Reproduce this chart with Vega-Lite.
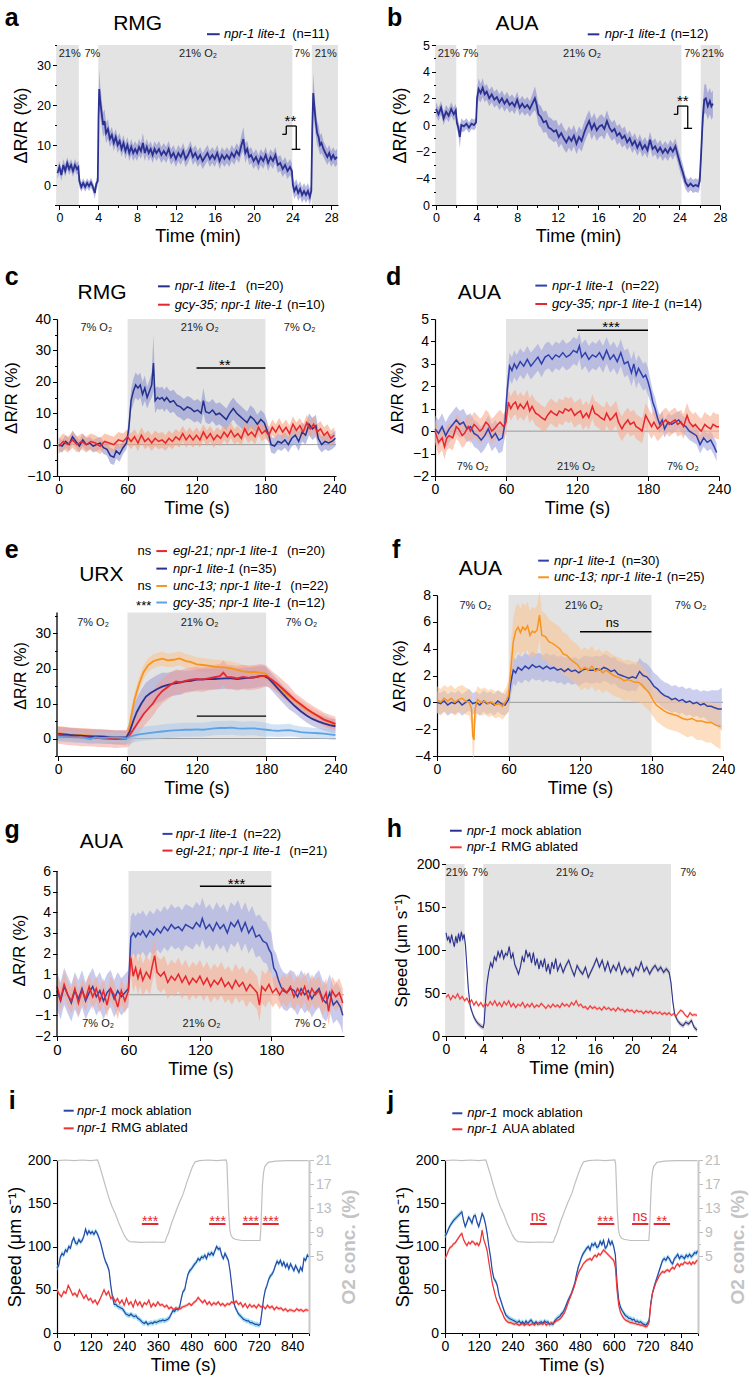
{
"$schema":"https://vega.github.io/schema/vega-lite/v6.json",
"background":"white",
"padding":{"left":2,"top":5,"right":5,"bottom":5},
"config":{"font":"Liberation Sans","view":{"stroke":null},
"axis":{"grid":false,"domainColor":"#000000","tickColor":"#000000","labelColor":"#000000","titleColor":"#000000","titleFontWeight":"normal","tickSize":4.5,"tickWidth":1,"domainWidth":1.2,"labelPadding":2,"labelOverlap":false,"labelFlush":false,"titlePadding":6,"labelFont":"Liberation Sans","titleFont":"Liberation Sans"},
"text":{"font":"Liberation Sans","color":"#000000"},"rule":{"color":"#000000"}},
"datasets":{
"a":[{"x":-0.2,"y":3,"e":1.5},{"x":0,"y":4.5,"e":1.5},{"x":0.2,"y":2.5,"e":1.5},{"x":0.4,"y":5,"e":1.5},{"x":0.6,"y":3.5,"e":1.5},{"x":0.8,"y":5.5,"e":1.5},{"x":1,"y":4,"e":1.5},{"x":1.2,"y":5,"e":1.5},{"x":1.4,"y":3.5,"e":1.5},{"x":1.6,"y":5,"e":1.5},{"x":1.8,"y":4,"e":1.5},{"x":1.95,"y":4.5,"e":1.5},{"x":2.05,"y":1,"e":1.5},{"x":2.25,"y":-0.5,"e":1.2},{"x":2.45,"y":0.5,"e":1.2},{"x":2.65,"y":-0.5,"e":1.2},{"x":2.85,"y":0.5,"e":1.2},{"x":3.05,"y":-0.3,"e":1.2},{"x":3.25,"y":0.6,"e":1.2},{"x":3.45,"y":-0.5,"e":1.2},{"x":3.65,"y":-2,"e":1.5},{"x":3.8,"y":0.3,"e":1.2},{"x":3.95,"y":1,"e":1.2},{"x":4.03,"y":17,"e":4},{"x":4.1,"y":24,"e":5},{"x":4.2,"y":21,"e":4},{"x":4.35,"y":18,"e":3.5},{"x":4.5,"y":15,"e":3},{"x":4.65,"y":16,"e":3},{"x":4.8,"y":13,"e":2.5},{"x":5,"y":14,"e":2.5},{"x":5.2,"y":11.5,"e":2},{"x":5.4,"y":12.5,"e":2},{"x":5.6,"y":10.5,"e":2},{"x":5.8,"y":12,"e":2},{"x":6,"y":10,"e":2},{"x":6.2,"y":11,"e":2},{"x":6.4,"y":9,"e":2},{"x":6.6,"y":10.5,"e":2},{"x":6.8,"y":8.5,"e":2},{"x":7,"y":10,"e":2},{"x":7.2,"y":8,"e":2},{"x":7.4,"y":9.5,"e":2},{"x":7.6,"y":8,"e":2},{"x":7.8,"y":9,"e":2},{"x":8,"y":8,"e":2},{"x":8.2,"y":9.5,"e":2},{"x":8.4,"y":8.5,"e":2},{"x":8.6,"y":10.5,"e":2.5},{"x":8.8,"y":8,"e":2},{"x":9,"y":9.5,"e":2},{"x":9.2,"y":8,"e":2},{"x":9.4,"y":9,"e":2},{"x":9.6,"y":7.5,"e":2},{"x":9.8,"y":9,"e":2},{"x":10,"y":8,"e":2},{"x":10.25,"y":9,"e":2},{"x":10.5,"y":7.5,"e":2},{"x":10.75,"y":8.5,"e":2},{"x":11,"y":7.5,"e":2},{"x":11.25,"y":9,"e":2},{"x":11.5,"y":7,"e":2},{"x":11.75,"y":8,"e":2},{"x":12,"y":6.5,"e":2},{"x":12.25,"y":8,"e":2},{"x":12.5,"y":7,"e":2},{"x":12.75,"y":8.5,"e":2},{"x":13,"y":6.5,"e":2},{"x":13.25,"y":7.5,"e":2},{"x":13.5,"y":9,"e":2},{"x":13.75,"y":7,"e":2},{"x":14,"y":8,"e":2},{"x":14.25,"y":6.5,"e":2},{"x":14.5,"y":7.5,"e":2},{"x":14.75,"y":6,"e":2},{"x":15,"y":7,"e":2},{"x":15.25,"y":8,"e":2},{"x":15.5,"y":6.5,"e":2},{"x":15.75,"y":7.5,"e":2},{"x":16,"y":6.5,"e":2},{"x":16.25,"y":8,"e":2},{"x":16.5,"y":6,"e":2},{"x":16.75,"y":7.5,"e":2},{"x":17,"y":6.5,"e":2},{"x":17.25,"y":7.5,"e":2},{"x":17.5,"y":6.5,"e":2},{"x":17.75,"y":8,"e":2},{"x":18,"y":7,"e":2},{"x":18.25,"y":8.5,"e":2},{"x":18.5,"y":7.5,"e":2},{"x":18.75,"y":10,"e":2.5},{"x":18.95,"y":11.5,"e":3},{"x":19.15,"y":8,"e":2.5},{"x":19.35,"y":9,"e":2},{"x":19.55,"y":7,"e":2},{"x":19.75,"y":7.5,"e":2},{"x":20,"y":6,"e":2},{"x":20.25,"y":7,"e":2},{"x":20.5,"y":5.5,"e":2},{"x":20.75,"y":7,"e":2},{"x":21,"y":6,"e":2},{"x":21.25,"y":7.5,"e":2},{"x":21.5,"y":5.5,"e":2},{"x":21.75,"y":7,"e":2},{"x":22,"y":6,"e":2},{"x":22.25,"y":7.5,"e":2},{"x":22.5,"y":5,"e":2},{"x":22.75,"y":5.5,"e":2},{"x":23,"y":4,"e":2},{"x":23.25,"y":5,"e":2},{"x":23.5,"y":3.5,"e":2},{"x":23.75,"y":4.5,"e":2},{"x":23.95,"y":3.5,"e":2},{"x":24.05,"y":0,"e":2},{"x":24.2,"y":-1.5,"e":2},{"x":24.4,"y":-0.5,"e":2},{"x":24.6,"y":-2,"e":2},{"x":24.8,"y":-1,"e":2},{"x":25,"y":-2.5,"e":2},{"x":25.2,"y":-1.5,"e":2},{"x":25.4,"y":-2.5,"e":2},{"x":25.6,"y":-1.5,"e":2},{"x":25.8,"y":-3,"e":2},{"x":25.95,"y":-1.5,"e":2},{"x":26.05,"y":14,"e":4},{"x":26.15,"y":23,"e":5},{"x":26.25,"y":20,"e":4},{"x":26.4,"y":16,"e":3.5},{"x":26.55,"y":13,"e":3},{"x":26.7,"y":12,"e":3},{"x":26.85,"y":10,"e":2.5},{"x":27,"y":10.5,"e":2.5},{"x":27.2,"y":9,"e":2},{"x":27.4,"y":8,"e":2},{"x":27.6,"y":7,"e":2},{"x":27.8,"y":8,"e":2},{"x":28,"y":6.5,"e":2},{"x":28.2,"y":7.5,"e":2},{"x":28.4,"y":6.5,"e":2},{"x":28.6,"y":7,"e":2}],
"a_g":[{"x":-0.25,"x2":2,"y":-5,"y2":35},{"x":4,"x2":24,"y":-5,"y2":35},{"x":26,"x2":28.7,"y":-5,"y2":35}],
"a_s":[{"x":22.96,"x2":23.37,"y":12.67,"y2":12.67},{"x":23.37,"x2":23.37,"y":12.67,"y2":14.75},{"x":23.37,"x2":24.4,"y":14.75,"y2":14.75},{"x":24.4,"x2":24.4,"y":14.75,"y2":8.92},{"x":23.93,"x2":24.82,"y":8.92,"y2":8.92}],
"a_l":[{"x":15.2,"x2":16.51,"y":37.7}],
"a_t":[{"k":"L","x":-5.64,"y":39.75,"t":"a"},{"k":"N","x":8.06,"y":38.7,"t":"RMG"},{"k":"I","x":16.96,"y":37.7,"t":"npr-1 lite-1"},{"k":"R","x":23.99,"y":37.7,"t":"(n=11)"},{"k":"P","x":1.06,"y":32.7,"t":"21%"},{"k":"P","x":3.39,"y":32.7,"t":"7%"},{"k":"P","x":14.28,"y":32.7,"t":"21% O₂"},{"k":"P","x":24.99,"y":32.7,"t":"7%"},{"k":"P","x":27.43,"y":32.7,"t":"21%"},{"k":"S","x":23.8,"y":15.9,"t":"**"}],
"b":[{"x":0,"y":1.2,"e":0.5},{"x":0.25,"y":0.8,"e":0.5},{"x":0.5,"y":1.3,"e":0.5},{"x":0.75,"y":0.5,"e":0.5},{"x":1,"y":1,"e":0.5},{"x":1.25,"y":0.7,"e":0.5},{"x":1.5,"y":1.2,"e":0.5},{"x":1.75,"y":0.8,"e":0.5},{"x":1.95,"y":1.1,"e":0.5},{"x":2.05,"y":0.2,"e":0.5},{"x":2.2,"y":-0.2,"e":0.5},{"x":2.35,"y":-0.9,"e":0.8},{"x":2.5,"y":0,"e":0.5},{"x":2.75,"y":-0.1,"e":0.4},{"x":3,"y":0.1,"e":0.4},{"x":3.25,"y":-0.2,"e":0.4},{"x":3.5,"y":0.1,"e":0.4},{"x":3.75,"y":0,"e":0.4},{"x":3.95,"y":0.2,"e":0.4},{"x":4.05,"y":2,"e":0.8},{"x":4.2,"y":2.7,"e":0.8},{"x":4.4,"y":2.4,"e":0.7},{"x":4.6,"y":2.8,"e":0.7},{"x":4.8,"y":2.3,"e":0.6},{"x":5,"y":2.5,"e":0.6},{"x":5.25,"y":2,"e":0.6},{"x":5.5,"y":2.3,"e":0.6},{"x":5.75,"y":1.9,"e":0.6},{"x":6,"y":2.1,"e":0.6},{"x":6.25,"y":1.7,"e":0.6},{"x":6.5,"y":2,"e":0.6},{"x":6.75,"y":1.6,"e":0.6},{"x":7,"y":1.9,"e":0.6},{"x":7.25,"y":1.5,"e":0.6},{"x":7.5,"y":1.7,"e":0.6},{"x":7.75,"y":1.4,"e":0.6},{"x":8,"y":1.9,"e":0.6},{"x":8.25,"y":1.3,"e":0.6},{"x":8.5,"y":1.6,"e":0.6},{"x":8.75,"y":1.3,"e":0.6},{"x":9,"y":1.5,"e":0.6},{"x":9.25,"y":1.2,"e":0.6},{"x":9.5,"y":1.6,"e":0.7},{"x":9.75,"y":2,"e":0.9},{"x":9.9,"y":1.6,"e":0.8},{"x":10.1,"y":0.8,"e":0.8},{"x":10.35,"y":0.6,"e":0.8},{"x":10.6,"y":0.2,"e":0.8},{"x":10.85,"y":0.3,"e":0.8},{"x":11.1,"y":-0.2,"e":0.8},{"x":11.35,"y":-0.3,"e":0.8},{"x":11.6,"y":-0.5,"e":0.8},{"x":11.85,"y":-0.4,"e":0.8},{"x":12.1,"y":-0.9,"e":0.8},{"x":12.35,"y":-0.6,"e":0.8},{"x":12.6,"y":-1,"e":0.8},{"x":12.85,"y":-1.3,"e":0.8},{"x":13.1,"y":-0.9,"e":0.8},{"x":13.35,"y":-1.2,"e":0.8},{"x":13.6,"y":-0.8,"e":0.8},{"x":13.85,"y":-1.4,"e":0.8},{"x":14.1,"y":-0.9,"e":0.8},{"x":14.35,"y":-1.2,"e":0.8},{"x":14.6,"y":-0.6,"e":0.8},{"x":14.85,"y":-0.1,"e":0.8},{"x":15.1,"y":0.3,"e":0.8},{"x":15.35,"y":-0.3,"e":0.8},{"x":15.6,"y":0.1,"e":0.8},{"x":15.85,"y":-0.4,"e":0.8},{"x":16.1,"y":-0.1,"e":0.8},{"x":16.35,"y":0,"e":0.8},{"x":16.6,"y":-0.3,"e":0.8},{"x":16.85,"y":0.3,"e":0.8},{"x":17.1,"y":-0.2,"e":0.7},{"x":17.35,"y":-0.5,"e":0.7},{"x":17.6,"y":-0.3,"e":0.7},{"x":17.85,"y":-0.8,"e":0.7},{"x":18.1,"y":-0.6,"e":0.7},{"x":18.35,"y":-1,"e":0.7},{"x":18.6,"y":-0.8,"e":0.7},{"x":18.85,"y":-1.3,"e":0.6},{"x":19.1,"y":-1,"e":0.6},{"x":19.35,"y":-1.5,"e":0.6},{"x":19.6,"y":-1.2,"e":0.6},{"x":19.85,"y":-1.7,"e":0.6},{"x":20.1,"y":-1.3,"e":0.6},{"x":20.35,"y":-1.8,"e":0.6},{"x":20.6,"y":-1.5,"e":0.6},{"x":20.85,"y":-1.9,"e":0.6},{"x":21.1,"y":-1.1,"e":0.6},{"x":21.35,"y":-1.8,"e":0.6},{"x":21.6,"y":-1.6,"e":0.6},{"x":21.85,"y":-2,"e":0.6},{"x":22.1,"y":-1.7,"e":0.6},{"x":22.35,"y":-2.1,"e":0.6},{"x":22.6,"y":-1.8,"e":0.6},{"x":22.85,"y":-2.1,"e":0.6},{"x":23.1,"y":-1.7,"e":0.6},{"x":23.35,"y":-2,"e":0.6},{"x":23.6,"y":-1.6,"e":0.6},{"x":23.85,"y":-2.3,"e":0.6},{"x":24.1,"y":-3,"e":0.6},{"x":24.35,"y":-3.6,"e":0.6},{"x":24.6,"y":-4.3,"e":0.5},{"x":24.85,"y":-4.6,"e":0.5},{"x":25.1,"y":-4.4,"e":0.5},{"x":25.35,"y":-4.6,"e":0.5},{"x":25.6,"y":-4.5,"e":0.5},{"x":25.85,"y":-4.6,"e":0.5},{"x":26,"y":-4.2,"e":0.6},{"x":26.15,"y":-2,"e":0.8},{"x":26.3,"y":0.5,"e":1},{"x":26.45,"y":1.9,"e":1.1},{"x":26.6,"y":2,"e":1.1},{"x":26.8,"y":1.4,"e":1},{"x":27,"y":1.8,"e":1},{"x":27.15,"y":1.4,"e":1},{"x":27.3,"y":1.6,"e":1}],
"b_g":[{"x":0,"x2":2,"y":-6,"y2":6},{"x":4,"x2":24.2,"y":-6,"y2":6},{"x":26.1,"x2":28,"y":-6,"y2":6}],
"b_s":[{"x":23.44,"x2":23.83,"y":0.8,"y2":0.8},{"x":23.83,"x2":23.83,"y":0.8,"y2":1.42},{"x":23.83,"x2":24.82,"y":1.42,"y2":1.42},{"x":24.82,"x2":24.82,"y":1.42,"y2":-0.25},{"x":24.43,"x2":25.25,"y":-0.25,"y2":-0.25}],
"b_l":[{"x":14.96,"x2":16.1,"y":6.8}],
"b_t":[{"k":"L","x":-4.83,"y":7.43,"t":"b"},{"k":"N","x":7.99,"y":7.1,"t":"AUA"},{"k":"I","x":16.63,"y":6.8,"t":"npr-1 lite-1"},{"k":"R","x":23.11,"y":6.8,"t":"(n=12)"},{"k":"P","x":1.25,"y":5.3,"t":"21%"},{"k":"P","x":3.39,"y":5.3,"t":"7%"},{"k":"P","x":14.4,"y":5.3,"t":"21% O₂"},{"k":"P","x":25.25,"y":5.3,"t":"7%"},{"k":"P","x":27.3,"y":5.3,"t":"21%"},{"k":"S","x":24.33,"y":1.79,"t":"**"}],
"c":[{"s":"n","x":0,"y":0,"e":2},{"s":"n","x":3,"y":-0.5,"e":2},{"s":"n","x":6,"y":1,"e":2},{"s":"n","x":9,"y":0,"e":2},{"s":"n","x":12,"y":2.5,"e":2},{"s":"n","x":15,"y":1,"e":2},{"s":"n","x":18,"y":-0.5,"e":2},{"s":"n","x":21,"y":1.5,"e":2},{"s":"n","x":24,"y":0,"e":2},{"s":"n","x":27,"y":0.5,"e":2},{"s":"n","x":30,"y":-0.5,"e":2},{"s":"n","x":33,"y":0,"e":2},{"s":"n","x":36,"y":0.5,"e":2},{"s":"n","x":39,"y":-1,"e":2},{"s":"n","x":42,"y":-1.5,"e":2},{"s":"n","x":45,"y":-3.5,"e":2.5},{"s":"n","x":48,"y":-4,"e":2.5},{"s":"n","x":50,"y":-2,"e":2.5},{"s":"n","x":53,"y":-3,"e":2.5},{"s":"n","x":56,"y":-1,"e":2},{"s":"n","x":59,"y":0.5,"e":2},{"s":"n","x":61,"y":5,"e":3},{"s":"n","x":63,"y":14,"e":3.5},{"s":"n","x":65,"y":17,"e":4},{"s":"n","x":67,"y":19,"e":4},{"s":"n","x":69,"y":18,"e":4},{"s":"n","x":71,"y":19,"e":4},{"s":"n","x":73,"y":16,"e":4},{"s":"n","x":75,"y":18,"e":4},{"s":"n","x":77,"y":15,"e":3.5},{"s":"n","x":79,"y":17,"e":3.5},{"s":"n","x":81,"y":19,"e":4},{"s":"n","x":82.5,"y":26,"e":9},{"s":"n","x":84,"y":14,"e":4},{"s":"n","x":86,"y":15,"e":3.5},{"s":"n","x":88,"y":14.5,"e":3.5},{"s":"n","x":90,"y":15,"e":3.5},{"s":"n","x":92,"y":14,"e":3.5},{"s":"n","x":94,"y":15,"e":3.5},{"s":"n","x":97,"y":13.5,"e":3.5},{"s":"n","x":100,"y":14,"e":3.5},{"s":"n","x":103,"y":12.5,"e":3.5},{"s":"n","x":106,"y":12,"e":3.5},{"s":"n","x":109,"y":11,"e":3.5},{"s":"n","x":112,"y":12,"e":3.5},{"s":"n","x":115,"y":11.5,"e":3.5},{"s":"n","x":118,"y":10.5,"e":3.5},{"s":"n","x":121,"y":11,"e":3.5},{"s":"n","x":124,"y":10,"e":3.5},{"s":"n","x":126,"y":14,"e":4},{"s":"n","x":128,"y":10.5,"e":3.5},{"s":"n","x":131,"y":10,"e":3.5},{"s":"n","x":134,"y":11,"e":3.5},{"s":"n","x":137,"y":9.5,"e":3.5},{"s":"n","x":140,"y":10,"e":3.5},{"s":"n","x":143,"y":9,"e":3.5},{"s":"n","x":146,"y":8,"e":3.5},{"s":"n","x":149,"y":10,"e":3.5},{"s":"n","x":152,"y":11.5,"e":3.5},{"s":"n","x":155,"y":10,"e":3.5},{"s":"n","x":158,"y":9,"e":3.5},{"s":"n","x":161,"y":8,"e":3.5},{"s":"n","x":164,"y":7,"e":3.5},{"s":"n","x":167,"y":9,"e":3.5},{"s":"n","x":170,"y":8,"e":3.5},{"s":"n","x":173,"y":6.5,"e":3},{"s":"n","x":176,"y":8,"e":3},{"s":"n","x":179,"y":7,"e":3},{"s":"n","x":181,"y":5,"e":3},{"s":"n","x":183,"y":3,"e":2.5},{"s":"n","x":185,"y":0,"e":2.5},{"s":"n","x":188,"y":-0.5,"e":2.5},{"s":"n","x":191,"y":1,"e":2.5},{"s":"n","x":194,"y":0.5,"e":2.5},{"s":"n","x":197,"y":1.5,"e":2.5},{"s":"n","x":200,"y":0,"e":2.5},{"s":"n","x":203,"y":2,"e":2.5},{"s":"n","x":206,"y":3,"e":3},{"s":"n","x":209,"y":1,"e":3},{"s":"n","x":212,"y":4,"e":3},{"s":"n","x":215,"y":3,"e":3},{"s":"n","x":218,"y":6.5,"e":3.5},{"s":"n","x":221,"y":5,"e":3.5},{"s":"n","x":224,"y":6,"e":3.5},{"s":"n","x":226,"y":2,"e":3},{"s":"n","x":229,"y":0,"e":2.5},{"s":"n","x":232,"y":1,"e":2.5},{"s":"n","x":235,"y":0.5,"e":2.5},{"s":"n","x":238,"y":1,"e":2.5},{"s":"n","x":241,"y":2,"e":2.5},
{"s":"g","x":0,"y":-0.5,"e":2.5},{"s":"g","x":4,"y":1,"e":2.5},{"s":"g","x":8,"y":0,"e":2.5},{"s":"g","x":12,"y":1.5,"e":2.5},{"s":"g","x":16,"y":0,"e":2.5},{"s":"g","x":20,"y":1,"e":2.5},{"s":"g","x":24,"y":0,"e":2.5},{"s":"g","x":28,"y":1,"e":2.5},{"s":"g","x":32,"y":0.5,"e":2.5},{"s":"g","x":36,"y":-0.5,"e":2.5},{"s":"g","x":40,"y":1,"e":2.5},{"s":"g","x":44,"y":0.5,"e":2.5},{"s":"g","x":48,"y":0,"e":2.5},{"s":"g","x":52,"y":1.5,"e":2.5},{"s":"g","x":56,"y":1,"e":2.5},{"s":"g","x":60,"y":2.5,"e":2.5},{"s":"g","x":63,"y":1,"e":2.5},{"s":"g","x":66,"y":2.5,"e":2.5},{"s":"g","x":69,"y":0.5,"e":2.5},{"s":"g","x":72,"y":3,"e":2.5},{"s":"g","x":75,"y":1,"e":2.5},{"s":"g","x":78,"y":2,"e":2.5},{"s":"g","x":81,"y":0.5,"e":2.5},{"s":"g","x":84,"y":2,"e":2.5},{"s":"g","x":87,"y":1,"e":2.5},{"s":"g","x":90,"y":1.5,"e":2.5},{"s":"g","x":93,"y":0.5,"e":2.5},{"s":"g","x":96,"y":2,"e":2.5},{"s":"g","x":99,"y":1,"e":2.5},{"s":"g","x":102,"y":2.5,"e":2.5},{"s":"g","x":105,"y":1.5,"e":2.5},{"s":"g","x":108,"y":3.5,"e":2.5},{"s":"g","x":111,"y":1.5,"e":2.5},{"s":"g","x":114,"y":3,"e":2.5},{"s":"g","x":117,"y":1.5,"e":2.5},{"s":"g","x":120,"y":3,"e":2.5},{"s":"g","x":123,"y":1.5,"e":2.5},{"s":"g","x":126,"y":4,"e":2.5},{"s":"g","x":129,"y":2,"e":2.5},{"s":"g","x":132,"y":3.5,"e":2.5},{"s":"g","x":135,"y":1.5,"e":2.5},{"s":"g","x":138,"y":3,"e":2.5},{"s":"g","x":141,"y":2,"e":2.5},{"s":"g","x":144,"y":4,"e":2.5},{"s":"g","x":147,"y":2.5,"e":2.5},{"s":"g","x":150,"y":4.5,"e":2.5},{"s":"g","x":153,"y":2.5,"e":2.5},{"s":"g","x":156,"y":3.5,"e":2.5},{"s":"g","x":159,"y":2,"e":2.5},{"s":"g","x":162,"y":5,"e":2.5},{"s":"g","x":165,"y":3,"e":2.5},{"s":"g","x":168,"y":4,"e":2.5},{"s":"g","x":171,"y":2.5,"e":2.5},{"s":"g","x":174,"y":5.5,"e":2.5},{"s":"g","x":177,"y":3.5,"e":2.5},{"s":"g","x":180,"y":4.5,"e":2.5},{"s":"g","x":183,"y":3,"e":2.5},{"s":"g","x":186,"y":5.5,"e":2.5},{"s":"g","x":189,"y":4,"e":2.5},{"s":"g","x":192,"y":6,"e":2.5},{"s":"g","x":195,"y":4,"e":2.5},{"s":"g","x":198,"y":5.5,"e":2.5},{"s":"g","x":201,"y":3.5,"e":2.5},{"s":"g","x":204,"y":6.5,"e":2.5},{"s":"g","x":207,"y":4.5,"e":2.5},{"s":"g","x":210,"y":6,"e":2.5},{"s":"g","x":213,"y":4,"e":2.5},{"s":"g","x":216,"y":7,"e":2.5},{"s":"g","x":219,"y":5,"e":2.5},{"s":"g","x":222,"y":6.5,"e":2.5},{"s":"g","x":225,"y":4,"e":2.5},{"s":"g","x":228,"y":5,"e":2.5},{"s":"g","x":231,"y":3,"e":2.5},{"s":"g","x":234,"y":4,"e":2.5},{"s":"g","x":237,"y":2,"e":2.5},{"s":"g","x":240,"y":3,"e":2.5}],
"c_g":[{"x":60,"x2":180,"y":-10,"y2":40}],
"c_s":[{"k":"b","x":120,"x2":180,"y":24.4,"y2":24.4},{"k":"z","x":-1.5,"x2":241.5,"y":0,"y2":0}],
"c_l":[{"s":"n","x":86.5,"x2":96.7,"y":50.4},{"s":"g","x":86.5,"x2":96.7,"y":44.55}],
"c_t":[{"k":"L","x":-47.06,"y":50.83,"t":"c"},{"k":"N","x":37.7,"y":46.4,"t":"RMG"},{"k":"I","x":101,"y":50.4,"t":"npr-1 lite-1"},{"k":"R","x":162.8,"y":50.4,"t":"(n=20)"},{"k":"I","x":101,"y":44.55,"t":"gcy-35; npr-1 lite-1"},{"k":"R","x":198.8,"y":44.55,"t":"(n=10)"},{"k":"P","x":32.7,"y":37.1,"t":"7% O₂"},{"k":"P","x":122.8,"y":37.1,"t":"21% O₂"},{"k":"P","x":209.9,"y":37.1,"t":"7% O₂"},{"k":"S","x":144.6,"y":25.4,"t":"**"}],
"d":[{"s":"n","x":0,"y":0.1,"e":0.6},{"s":"n","x":3,"y":-0.1,"e":0.6},{"s":"n","x":6,"y":0.2,"e":0.6},{"s":"n","x":9,"y":-0.2,"e":0.6},{"s":"n","x":12,"y":0.1,"e":0.6},{"s":"n","x":15,"y":0.3,"e":0.6},{"s":"n","x":18,"y":0.5,"e":0.6},{"s":"n","x":21,"y":0.3,"e":0.6},{"s":"n","x":24,"y":0.4,"e":0.6},{"s":"n","x":27,"y":0.1,"e":0.6},{"s":"n","x":30,"y":0.2,"e":0.6},{"s":"n","x":33,"y":-0.1,"e":0.6},{"s":"n","x":36,"y":-0.2,"e":0.6},{"s":"n","x":39,"y":-0.4,"e":0.6},{"s":"n","x":42,"y":-0.2,"e":0.6},{"s":"n","x":45,"y":0.1,"e":0.6},{"s":"n","x":48,"y":-0.3,"e":0.6},{"s":"n","x":51,"y":-0.1,"e":0.6},{"s":"n","x":54,"y":-0.4,"e":0.6},{"s":"n","x":57,"y":-0.3,"e":0.6},{"s":"n","x":59,"y":0.3,"e":0.6},{"s":"n","x":61,"y":1.8,"e":0.6},{"s":"n","x":63,"y":2.9,"e":0.6},{"s":"n","x":65,"y":2.7,"e":0.6},{"s":"n","x":67,"y":3,"e":0.6},{"s":"n","x":69,"y":2.8,"e":0.6},{"s":"n","x":72,"y":3.1,"e":0.6},{"s":"n","x":75,"y":2.9,"e":0.6},{"s":"n","x":78,"y":3.2,"e":0.6},{"s":"n","x":81,"y":2.9,"e":0.6},{"s":"n","x":84,"y":3.1,"e":0.6},{"s":"n","x":87,"y":3.3,"e":0.6},{"s":"n","x":90,"y":3,"e":0.6},{"s":"n","x":93,"y":3.3,"e":0.6},{"s":"n","x":96,"y":3.4,"e":0.6},{"s":"n","x":99,"y":3.2,"e":0.6},{"s":"n","x":102,"y":3.4,"e":0.6},{"s":"n","x":105,"y":3.3,"e":0.6},{"s":"n","x":108,"y":3.5,"e":0.6},{"s":"n","x":111,"y":3.3,"e":0.6},{"s":"n","x":114,"y":3.4,"e":0.6},{"s":"n","x":117,"y":3.6,"e":0.6},{"s":"n","x":120,"y":3.5,"e":0.6},{"s":"n","x":122,"y":3.8,"e":0.6},{"s":"n","x":124,"y":3.3,"e":0.6},{"s":"n","x":127,"y":3.5,"e":0.6},{"s":"n","x":130,"y":3.2,"e":0.6},{"s":"n","x":133,"y":3.4,"e":0.6},{"s":"n","x":136,"y":3.3,"e":0.6},{"s":"n","x":139,"y":3.5,"e":0.6},{"s":"n","x":142,"y":3.2,"e":0.6},{"s":"n","x":145,"y":3.6,"e":0.6},{"s":"n","x":148,"y":3.2,"e":0.6},{"s":"n","x":151,"y":3.4,"e":0.6},{"s":"n","x":154,"y":3.1,"e":0.6},{"s":"n","x":157,"y":3.5,"e":0.6},{"s":"n","x":160,"y":3,"e":0.6},{"s":"n","x":163,"y":3.1,"e":0.6},{"s":"n","x":166,"y":2.6,"e":0.6},{"s":"n","x":168,"y":3,"e":0.6},{"s":"n","x":170,"y":2.5,"e":0.6},{"s":"n","x":172,"y":2.8,"e":0.6},{"s":"n","x":174,"y":2.6,"e":0.6},{"s":"n","x":176,"y":2.4,"e":0.6},{"s":"n","x":178,"y":2.5,"e":0.6},{"s":"n","x":180,"y":2.2,"e":0.6},{"s":"n","x":182,"y":1.8,"e":0.5},{"s":"n","x":184,"y":1.3,"e":0.5},{"s":"n","x":186,"y":1,"e":0.5},{"s":"n","x":188,"y":0.6,"e":0.4},{"s":"n","x":190,"y":0.3,"e":0.4},{"s":"n","x":192,"y":0.5,"e":0.4},{"s":"n","x":194,"y":0.1,"e":0.4},{"s":"n","x":197,"y":0.4,"e":0.4},{"s":"n","x":200,"y":0.3,"e":0.4},{"s":"n","x":203,"y":0.4,"e":0.4},{"s":"n","x":206,"y":0.5,"e":0.4},{"s":"n","x":209,"y":0.3,"e":0.4},{"s":"n","x":212,"y":0.2,"e":0.4},{"s":"n","x":215,"y":0,"e":0.4},{"s":"n","x":218,"y":-0.1,"e":0.4},{"s":"n","x":221,"y":-0.2,"e":0.4},{"s":"n","x":224,"y":-0.6,"e":0.4},{"s":"n","x":227,"y":-0.3,"e":0.4},{"s":"n","x":230,"y":-0.5,"e":0.4},{"s":"n","x":233,"y":-0.4,"e":0.4},{"s":"n","x":236,"y":-0.7,"e":0.4},{"s":"n","x":238,"y":-0.95,"e":0.4},
{"s":"g","x":0,"y":0,"e":0.55},{"s":"g","x":3,"y":-0.5,"e":0.55},{"s":"g","x":6,"y":-0.3,"e":0.55},{"s":"g","x":8,"y":-0.7,"e":0.55},{"s":"g","x":10,"y":-0.3,"e":0.55},{"s":"g","x":12,"y":-0.2,"e":0.55},{"s":"g","x":15,"y":-0.3,"e":0.55},{"s":"g","x":18,"y":0.2,"e":0.55},{"s":"g","x":20,"y":0.1,"e":0.55},{"s":"g","x":23,"y":-0.2,"e":0.55},{"s":"g","x":25,"y":-0.1,"e":0.55},{"s":"g","x":28,"y":0.2,"e":0.55},{"s":"g","x":30,"y":0,"e":0.55},{"s":"g","x":33,"y":0.3,"e":0.55},{"s":"g","x":35,"y":0.2,"e":0.55},{"s":"g","x":38,"y":0,"e":0.55},{"s":"g","x":40,"y":0.1,"e":0.55},{"s":"g","x":43,"y":0.4,"e":0.55},{"s":"g","x":45,"y":0.3,"e":0.55},{"s":"g","x":48,"y":0,"e":0.55},{"s":"g","x":50,"y":0.1,"e":0.55},{"s":"g","x":53,"y":0.3,"e":0.55},{"s":"g","x":55,"y":0.4,"e":0.55},{"s":"g","x":58,"y":0.2,"e":0.55},{"s":"g","x":60,"y":0.4,"e":0.55},{"s":"g","x":62,"y":1.3,"e":0.55},{"s":"g","x":64,"y":1,"e":0.55},{"s":"g","x":66,"y":1.2,"e":0.55},{"s":"g","x":68,"y":1.3,"e":0.55},{"s":"g","x":70,"y":1,"e":0.55},{"s":"g","x":72,"y":1.2,"e":0.55},{"s":"g","x":75,"y":1,"e":0.55},{"s":"g","x":78,"y":1.3,"e":0.55},{"s":"g","x":80,"y":0.9,"e":0.55},{"s":"g","x":82,"y":1.1,"e":0.55},{"s":"g","x":85,"y":0.8,"e":0.55},{"s":"g","x":88,"y":0.7,"e":0.55},{"s":"g","x":90,"y":0.6,"e":0.55},{"s":"g","x":93,"y":0.5,"e":0.55},{"s":"g","x":95,"y":0.7,"e":0.55},{"s":"g","x":98,"y":0.9,"e":0.55},{"s":"g","x":100,"y":0.8,"e":0.55},{"s":"g","x":103,"y":0.7,"e":0.55},{"s":"g","x":105,"y":0.9,"e":0.55},{"s":"g","x":108,"y":0.8,"e":0.55},{"s":"g","x":110,"y":1,"e":0.55},{"s":"g","x":113,"y":0.9,"e":0.55},{"s":"g","x":115,"y":1,"e":0.55},{"s":"g","x":118,"y":0.7,"e":0.55},{"s":"g","x":120,"y":0.8,"e":0.55},{"s":"g","x":123,"y":0.9,"e":0.55},{"s":"g","x":125,"y":0.6,"e":0.55},{"s":"g","x":128,"y":0.8,"e":0.55},{"s":"g","x":130,"y":0.6,"e":0.55},{"s":"g","x":133,"y":1.1,"e":0.55},{"s":"g","x":135,"y":0.8,"e":0.55},{"s":"g","x":138,"y":0.7,"e":0.55},{"s":"g","x":140,"y":0.6,"e":0.55},{"s":"g","x":143,"y":0.5,"e":0.55},{"s":"g","x":145,"y":0.8,"e":0.55},{"s":"g","x":148,"y":0.5,"e":0.55},{"s":"g","x":150,"y":0.6,"e":0.55},{"s":"g","x":153,"y":0.8,"e":0.55},{"s":"g","x":155,"y":0.4,"e":0.55},{"s":"g","x":158,"y":0.1,"e":0.55},{"s":"g","x":160,"y":0.3,"e":0.55},{"s":"g","x":163,"y":0.5,"e":0.55},{"s":"g","x":165,"y":0.3,"e":0.55},{"s":"g","x":168,"y":0.4,"e":0.55},{"s":"g","x":170,"y":0.2,"e":0.55},{"s":"g","x":173,"y":0.1,"e":0.55},{"s":"g","x":175,"y":0,"e":0.55},{"s":"g","x":178,"y":0.7,"e":0.55},{"s":"g","x":180,"y":0.5,"e":0.55},{"s":"g","x":183,"y":0.2,"e":0.55},{"s":"g","x":185,"y":0.4,"e":0.55},{"s":"g","x":188,"y":0.1,"e":0.55},{"s":"g","x":190,"y":0.2,"e":0.55},{"s":"g","x":193,"y":0.4,"e":0.55},{"s":"g","x":195,"y":0.5,"e":0.55},{"s":"g","x":198,"y":0.3,"e":0.55},{"s":"g","x":200,"y":0.4,"e":0.55},{"s":"g","x":203,"y":0.5,"e":0.55},{"s":"g","x":205,"y":0.3,"e":0.55},{"s":"g","x":208,"y":0.4,"e":0.55},{"s":"g","x":210,"y":0.2,"e":0.55},{"s":"g","x":213,"y":0.7,"e":0.55},{"s":"g","x":215,"y":0.4,"e":0.55},{"s":"g","x":218,"y":0.2,"e":0.55},{"s":"g","x":220,"y":0.3,"e":0.55},{"s":"g","x":223,"y":0.1,"e":0.55},{"s":"g","x":225,"y":0,"e":0.55},{"s":"g","x":228,"y":0.3,"e":0.55},{"s":"g","x":230,"y":0.2,"e":0.55},{"s":"g","x":233,"y":0.1,"e":0.55},{"s":"g","x":235,"y":0.3,"e":0.55},{"s":"g","x":238,"y":0.2,"e":0.55},{"s":"g","x":240,"y":0.2,"e":0.55}],
"d_g":[{"x":60,"x2":180,"y":-2,"y2":5}],
"d_s":[{"k":"b","x":120,"x2":180,"y":4.5,"y2":4.5},{"k":"z","x":0,"x2":240,"y":0,"y2":0}],
"d_l":[{"s":"n","x":84.8,"x2":94.7,"y":6.49},{"s":"g","x":84.8,"x2":94.7,"y":5.67}],
"d_t":[{"k":"L","x":-41.4,"y":6.52,"t":"d"},{"k":"N","x":37.5,"y":5.89,"t":"AUA"},{"k":"I","x":98.9,"y":6.49,"t":"npr-1 lite-1"},{"k":"R","x":157.2,"y":6.49,"t":"(n=22)"},{"k":"I","x":98.9,"y":5.67,"t":"gcy-35; npr-1 lite-1"},{"k":"R","x":193.6,"y":5.67,"t":"(n=14)"},{"k":"P","x":31.9,"y":-1.61,"t":"7% O₂"},{"k":"P","x":119.2,"y":-1.61,"t":"21% O₂"},{"k":"P","x":209.4,"y":-1.61,"t":"7% O₂"},{"k":"S","x":148.8,"y":4.66,"t":"***"}],
"e":[{"s":"o","x":0,"y":1.5,"e":2},{"s":"o","x":5,"y":1.4,"e":2},{"s":"o","x":10,"y":1.2,"e":2},{"s":"o","x":15,"y":1.1,"e":2},{"s":"o","x":20,"y":1,"e":2},{"s":"o","x":25,"y":0.9,"e":2},{"s":"o","x":30,"y":0.8,"e":2},{"s":"o","x":35,"y":0.7,"e":2},{"s":"o","x":40,"y":0.6,"e":2},{"s":"o","x":45,"y":0.5,"e":2},{"s":"o","x":50,"y":0.3,"e":2},{"s":"o","x":55,"y":0.2,"e":2},{"s":"o","x":59,"y":0,"e":2},{"s":"o","x":61,"y":2,"e":2},{"s":"o","x":63,"y":6,"e":2},{"s":"o","x":66,"y":11,"e":2},{"s":"o","x":70,"y":15.5,"e":2},{"s":"o","x":74,"y":19,"e":2},{"s":"o","x":78,"y":21,"e":2},{"s":"o","x":82,"y":22,"e":2},{"s":"o","x":86,"y":22.5,"e":2},{"s":"o","x":90,"y":22.8,"e":2},{"s":"o","x":95,"y":22.3,"e":2},{"s":"o","x":100,"y":22.5,"e":2},{"s":"o","x":105,"y":22.9,"e":2},{"s":"o","x":110,"y":22.2,"e":2},{"s":"o","x":115,"y":21.8,"e":2},{"s":"o","x":120,"y":21.2,"e":2},{"s":"o","x":125,"y":21,"e":2},{"s":"o","x":130,"y":20.8,"e":2},{"s":"o","x":135,"y":20.5,"e":2},{"s":"o","x":140,"y":20.4,"e":2},{"s":"o","x":145,"y":20.3,"e":2},{"s":"o","x":150,"y":20,"e":2},{"s":"o","x":155,"y":19.6,"e":2},{"s":"o","x":160,"y":19.2,"e":1.8},{"s":"o","x":165,"y":19,"e":1.8},{"s":"o","x":170,"y":19,"e":1.8},{"s":"o","x":175,"y":18.8,"e":1.8},{"s":"o","x":180,"y":18.5,"e":1.8},{"s":"o","x":185,"y":16.5,"e":1.6},{"s":"o","x":190,"y":14.8,"e":1.6},{"s":"o","x":195,"y":13.2,"e":1.6},{"s":"o","x":200,"y":12,"e":1.5},{"s":"o","x":205,"y":10.8,"e":1.5},{"s":"o","x":210,"y":9.5,"e":1.5},{"s":"o","x":215,"y":8.3,"e":1.5},{"s":"o","x":220,"y":7.2,"e":1.5},{"s":"o","x":225,"y":6.3,"e":1.5},{"s":"o","x":230,"y":5.4,"e":1.5},{"s":"o","x":235,"y":4.6,"e":1.5},{"s":"o","x":240,"y":4,"e":1.5},
{"s":"n","x":0,"y":1.3,"e":2},{"s":"n","x":5,"y":1.2,"e":2},{"s":"n","x":10,"y":1,"e":2},{"s":"n","x":15,"y":0.9,"e":2},{"s":"n","x":20,"y":0.8,"e":2},{"s":"n","x":25,"y":0.7,"e":2},{"s":"n","x":30,"y":0.6,"e":2},{"s":"n","x":35,"y":0.6,"e":2},{"s":"n","x":40,"y":0.5,"e":2},{"s":"n","x":45,"y":0.4,"e":2},{"s":"n","x":50,"y":0.3,"e":2},{"s":"n","x":55,"y":0.3,"e":2},{"s":"n","x":59,"y":0.3,"e":2},{"s":"n","x":62,"y":2,"e":3},{"s":"n","x":65,"y":5,"e":4},{"s":"n","x":68,"y":7.5,"e":4},{"s":"n","x":72,"y":10,"e":4},{"s":"n","x":76,"y":12,"e":4},{"s":"n","x":80,"y":13,"e":4},{"s":"n","x":85,"y":14,"e":4},{"s":"n","x":90,"y":14.8,"e":4},{"s":"n","x":95,"y":15.3,"e":3.5},{"s":"n","x":100,"y":15.7,"e":3.5},{"s":"n","x":105,"y":16,"e":3.5},{"s":"n","x":110,"y":16.3,"e":3},{"s":"n","x":115,"y":16.5,"e":3},{"s":"n","x":120,"y":16.8,"e":3},{"s":"n","x":125,"y":16.9,"e":3},{"s":"n","x":130,"y":17,"e":3},{"s":"n","x":135,"y":17,"e":3},{"s":"n","x":140,"y":17.1,"e":3},{"s":"n","x":145,"y":17.2,"e":3},{"s":"n","x":150,"y":17.2,"e":3},{"s":"n","x":155,"y":17,"e":3},{"s":"n","x":160,"y":17.2,"e":3},{"s":"n","x":165,"y":17.3,"e":3},{"s":"n","x":170,"y":17.5,"e":3},{"s":"n","x":175,"y":17.8,"e":3},{"s":"n","x":178,"y":17.9,"e":3},{"s":"n","x":182,"y":17.2,"e":2.5},{"s":"n","x":186,"y":15.8,"e":2.5},{"s":"n","x":190,"y":14.3,"e":2.5},{"s":"n","x":195,"y":12.5,"e":2.5},{"s":"n","x":200,"y":10.8,"e":2.5},{"s":"n","x":205,"y":9.2,"e":2},{"s":"n","x":210,"y":7.8,"e":2},{"s":"n","x":215,"y":6.6,"e":2},{"s":"n","x":220,"y":5.6,"e":2},{"s":"n","x":225,"y":4.9,"e":2},{"s":"n","x":230,"y":4.3,"e":2},{"s":"n","x":235,"y":3.8,"e":2},{"s":"n","x":240,"y":3.5,"e":2},
{"s":"r","x":0,"y":1,"e":2.5},{"s":"r","x":5,"y":0.8,"e":2.5},{"s":"r","x":10,"y":0.6,"e":2.5},{"s":"r","x":15,"y":0.5,"e":2.5},{"s":"r","x":20,"y":0.3,"e":2.5},{"s":"r","x":25,"y":0.3,"e":2.5},{"s":"r","x":30,"y":0.2,"e":2.5},{"s":"r","x":35,"y":0.1,"e":2.5},{"s":"r","x":40,"y":0,"e":2.5},{"s":"r","x":45,"y":-0.1,"e":2.5},{"s":"r","x":50,"y":-0.2,"e":2.5},{"s":"r","x":55,"y":-0.1,"e":2.5},{"s":"r","x":59,"y":-0.1,"e":2.5},{"s":"r","x":62,"y":1,"e":3},{"s":"r","x":66,"y":3,"e":3.5},{"s":"r","x":70,"y":5,"e":3.5},{"s":"r","x":74,"y":7,"e":3.5},{"s":"r","x":78,"y":8.5,"e":3.5},{"s":"r","x":82,"y":10,"e":3.5},{"s":"r","x":86,"y":12,"e":3.5},{"s":"r","x":90,"y":13.5,"e":3.5},{"s":"r","x":94,"y":14.5,"e":3.5},{"s":"r","x":98,"y":15.5,"e":3.5},{"s":"r","x":102,"y":16.3,"e":3.5},{"s":"r","x":106,"y":16,"e":3.5},{"s":"r","x":110,"y":16.5,"e":3.5},{"s":"r","x":115,"y":16.8,"e":3.5},{"s":"r","x":120,"y":17,"e":3.5},{"s":"r","x":125,"y":16.8,"e":3.5},{"s":"r","x":130,"y":17.2,"e":3.5},{"s":"r","x":135,"y":17.5,"e":3.5},{"s":"r","x":140,"y":17.8,"e":3.5},{"s":"r","x":143,"y":18.8,"e":3.5},{"s":"r","x":146,"y":17.6,"e":3.5},{"s":"r","x":150,"y":17.5,"e":3.5},{"s":"r","x":155,"y":17.2,"e":3.5},{"s":"r","x":160,"y":17.6,"e":3.5},{"s":"r","x":165,"y":17.3,"e":3.5},{"s":"r","x":170,"y":17.5,"e":3.5},{"s":"r","x":175,"y":17.8,"e":3.5},{"s":"r","x":180,"y":17.9,"e":3},{"s":"r","x":185,"y":16.8,"e":2.5},{"s":"r","x":190,"y":15.5,"e":2.5},{"s":"r","x":195,"y":14,"e":2.5},{"s":"r","x":200,"y":12.5,"e":2.5},{"s":"r","x":205,"y":11,"e":2},{"s":"r","x":210,"y":9.8,"e":2},{"s":"r","x":215,"y":8.5,"e":2},{"s":"r","x":220,"y":7.4,"e":2},{"s":"r","x":225,"y":6.4,"e":2},{"s":"r","x":230,"y":5.4,"e":2},{"s":"r","x":235,"y":4.8,"e":2},{"s":"r","x":240,"y":4.2,"e":2},
{"s":"g","x":0,"y":0.5,"e":1.5},{"s":"g","x":5,"y":0.4,"e":1.5},{"s":"g","x":10,"y":0.4,"e":1.5},{"s":"g","x":15,"y":0.3,"e":1.5},{"s":"g","x":20,"y":0.3,"e":1.5},{"s":"g","x":25,"y":0,"e":1.5},{"s":"g","x":28,"y":-0.2,"e":1.5},{"s":"g","x":32,"y":0.3,"e":1.5},{"s":"g","x":36,"y":0.2,"e":1.5},{"s":"g","x":40,"y":0.2,"e":1.5},{"s":"g","x":45,"y":0.3,"e":1.5},{"s":"g","x":50,"y":0.3,"e":1.5},{"s":"g","x":55,"y":0.2,"e":1.5},{"s":"g","x":59,"y":0,"e":1.5},{"s":"g","x":62,"y":0.5,"e":2},{"s":"g","x":66,"y":0.9,"e":2},{"s":"g","x":70,"y":1.2,"e":2},{"s":"g","x":75,"y":1.4,"e":2},{"s":"g","x":80,"y":1.6,"e":2},{"s":"g","x":85,"y":1.8,"e":2},{"s":"g","x":90,"y":2,"e":2},{"s":"g","x":95,"y":2.2,"e":2},{"s":"g","x":100,"y":2.3,"e":2},{"s":"g","x":105,"y":2.4,"e":2},{"s":"g","x":110,"y":2.5,"e":2},{"s":"g","x":115,"y":2.5,"e":2},{"s":"g","x":120,"y":2.6,"e":2},{"s":"g","x":125,"y":2.5,"e":2},{"s":"g","x":130,"y":2.7,"e":2},{"s":"g","x":135,"y":2.9,"e":2},{"s":"g","x":140,"y":3,"e":2},{"s":"g","x":145,"y":3,"e":2},{"s":"g","x":150,"y":3.1,"e":2},{"s":"g","x":155,"y":2.9,"e":2},{"s":"g","x":160,"y":2.8,"e":2},{"s":"g","x":165,"y":2.9,"e":2},{"s":"g","x":170,"y":2.9,"e":2},{"s":"g","x":175,"y":2.7,"e":2},{"s":"g","x":180,"y":2.5,"e":2},{"s":"g","x":185,"y":2.3,"e":1.8},{"s":"g","x":190,"y":2.2,"e":1.8},{"s":"g","x":195,"y":2.3,"e":1.8},{"s":"g","x":200,"y":2.4,"e":1.8},{"s":"g","x":205,"y":2.1,"e":1.6},{"s":"g","x":210,"y":1.8,"e":1.6},{"s":"g","x":215,"y":1.7,"e":1.6},{"s":"g","x":220,"y":1.6,"e":1.5},{"s":"g","x":225,"y":1.5,"e":1.5},{"s":"g","x":230,"y":1.4,"e":1.5},{"s":"g","x":235,"y":1.2,"e":1.5},{"s":"g","x":240,"y":1,"e":1.5}],
"e_g":[{"x":60,"x2":180,"y":-5,"y2":36}],
"e_s":[{"k":"b","x":120,"x2":180,"y":6.4,"y2":6.4},{"k":"b","x":-1,"x2":-1,"y":-5,"y2":36},{"k":"z","x":-1,"x2":240.5,"y":0,"y2":0}],
"e_l":[{"s":"r","x":85,"x2":94.2,"y":53.55},{"s":"n","x":85,"x2":94.2,"y":48.54},{"s":"o","x":85,"x2":94.2,"y":43.58},{"s":"g","x":85,"x2":94.2,"y":38.85}],
"e_t":[{"k":"L","x":-46.3,"y":51.67,"t":"e"},{"k":"N","x":37.4,"y":45,"t":"URX"},{"k":"Q","x":80.6,"y":53.55,"t":"ns"},{"k":"I","x":99.4,"y":53.55,"t":"egl-21; npr-1 lite-1"},{"k":"R","x":198.1,"y":53.55,"t":"(n=20)"},{"k":"I","x":99.4,"y":48.54,"t":"npr-1 lite-1"},{"k":"R","x":156.3,"y":48.54,"t":"(n=35)"},{"k":"Q","x":80.6,"y":43.58,"t":"ns"},{"k":"I","x":99.4,"y":43.58,"t":"unc-13; npr-1 lite-1"},{"k":"R","x":201,"y":43.58,"t":"(n=22)"},{"k":"Q","x":80.6,"y":37.85,"t":"***"},{"k":"I","x":99.4,"y":38.85,"t":"gcy-35; npr-1 lite-1"},{"k":"R","x":198.1,"y":38.85,"t":"(n=12)"},{"k":"P","x":30.2,"y":32.95,"t":"7% O₂"},{"k":"P","x":122.5,"y":32.95,"t":"21% O₂"},{"k":"P","x":210.5,"y":32.95,"t":"7% O₂"}],
"f":[{"s":"n","x":0,"y":0,"e":0.8},{"s":"n","x":3,"y":-0.1,"e":0.8},{"s":"n","x":6,"y":0.1,"e":0.8},{"s":"n","x":9,"y":-0.2,"e":0.8},{"s":"n","x":12,"y":0,"e":0.8},{"s":"n","x":15,"y":-0.1,"e":0.8},{"s":"n","x":18,"y":0.1,"e":0.8},{"s":"n","x":21,"y":-0.2,"e":0.8},{"s":"n","x":24,"y":0,"e":0.8},{"s":"n","x":27,"y":0.2,"e":0.8},{"s":"n","x":30,"y":-0.1,"e":0.8},{"s":"n","x":33,"y":0,"e":0.8},{"s":"n","x":36,"y":-0.2,"e":0.8},{"s":"n","x":39,"y":0.1,"e":0.8},{"s":"n","x":42,"y":-0.1,"e":0.8},{"s":"n","x":45,"y":0,"e":0.8},{"s":"n","x":48,"y":-0.2,"e":0.8},{"s":"n","x":51,"y":0.1,"e":0.8},{"s":"n","x":54,"y":-0.1,"e":0.8},{"s":"n","x":57,"y":-0.2,"e":0.8},{"s":"n","x":60,"y":0.2,"e":0.9},{"s":"n","x":62,"y":1.5,"e":1},{"s":"n","x":64,"y":2.4,"e":1},{"s":"n","x":66,"y":2.2,"e":1},{"s":"n","x":68,"y":2.6,"e":1},{"s":"n","x":71,"y":2.4,"e":1},{"s":"n","x":74,"y":2.7,"e":1},{"s":"n","x":77,"y":2.5,"e":1},{"s":"n","x":80,"y":2.8,"e":1},{"s":"n","x":83,"y":2.6,"e":1},{"s":"n","x":86,"y":2.7,"e":1},{"s":"n","x":89,"y":2.5,"e":1},{"s":"n","x":92,"y":2.7,"e":1},{"s":"n","x":95,"y":2.5,"e":1},{"s":"n","x":98,"y":2.6,"e":1},{"s":"n","x":101,"y":2.4,"e":1},{"s":"n","x":104,"y":2.5,"e":1},{"s":"n","x":107,"y":2.3,"e":1},{"s":"n","x":110,"y":2.5,"e":1},{"s":"n","x":113,"y":2.3,"e":1},{"s":"n","x":116,"y":2.4,"e":1},{"s":"n","x":119,"y":2.2,"e":1},{"s":"n","x":122,"y":2.4,"e":1},{"s":"n","x":125,"y":2.5,"e":1},{"s":"n","x":128,"y":2.4,"e":1},{"s":"n","x":131,"y":2.4,"e":1},{"s":"n","x":134,"y":2.5,"e":1},{"s":"n","x":137,"y":2.4,"e":1},{"s":"n","x":140,"y":2.6,"e":1},{"s":"n","x":143,"y":2.5,"e":1},{"s":"n","x":146,"y":2.3,"e":1},{"s":"n","x":149,"y":2.4,"e":1},{"s":"n","x":152,"y":2.1,"e":1},{"s":"n","x":155,"y":2,"e":1},{"s":"n","x":158,"y":1.9,"e":1},{"s":"n","x":161,"y":1.8,"e":1},{"s":"n","x":164,"y":1.9,"e":1},{"s":"n","x":167,"y":1.8,"e":1},{"s":"n","x":170,"y":2.3,"e":1},{"s":"n","x":173,"y":2,"e":1},{"s":"n","x":176,"y":1.9,"e":1},{"s":"n","x":179,"y":1.6,"e":1},{"s":"n","x":182,"y":1.2,"e":1},{"s":"n","x":185,"y":1,"e":1},{"s":"n","x":188,"y":0.7,"e":1},{"s":"n","x":191,"y":0.5,"e":1},{"s":"n","x":194,"y":0.4,"e":1},{"s":"n","x":197,"y":0.2,"e":1},{"s":"n","x":200,"y":0.3,"e":1},{"s":"n","x":203,"y":0.1,"e":1},{"s":"n","x":206,"y":0.2,"e":1},{"s":"n","x":209,"y":0,"e":1},{"s":"n","x":212,"y":0.1,"e":1},{"s":"n","x":215,"y":-0.1,"e":1},{"s":"n","x":218,"y":0,"e":1},{"s":"n","x":221,"y":-0.2,"e":1},{"s":"n","x":224,"y":-0.1,"e":1},{"s":"n","x":227,"y":-0.3,"e":1.1},{"s":"n","x":230,"y":-0.3,"e":1.2},{"s":"n","x":233,"y":-0.4,"e":1.3},{"s":"n","x":236,"y":-0.5,"e":1.4},{"s":"n","x":239,"y":-0.5,"e":1.6},
{"s":"o","x":0,"y":0.2,"e":1},{"s":"o","x":3,"y":0,"e":1},{"s":"o","x":6,"y":0.3,"e":1},{"s":"o","x":9,"y":0.1,"e":1},{"s":"o","x":12,"y":0.3,"e":1},{"s":"o","x":15,"y":0,"e":1},{"s":"o","x":18,"y":0.2,"e":1},{"s":"o","x":21,"y":0.3,"e":1},{"s":"o","x":24,"y":0.1,"e":1},{"s":"o","x":27,"y":0,"e":1},{"s":"o","x":29,"y":-0.5,"e":1.2},{"s":"o","x":30,"y":-2.5,"e":1.5},{"s":"o","x":31,"y":-2.8,"e":1.5},{"s":"o","x":32,"y":-0.5,"e":1.2},{"s":"o","x":34,"y":0.2,"e":1},{"s":"o","x":37,"y":0,"e":1},{"s":"o","x":40,"y":0.1,"e":1},{"s":"o","x":43,"y":-0.1,"e":1},{"s":"o","x":46,"y":0,"e":1},{"s":"o","x":49,"y":-0.2,"e":1},{"s":"o","x":52,"y":-0.1,"e":1},{"s":"o","x":55,"y":-0.3,"e":1},{"s":"o","x":58,"y":0.1,"e":1},{"s":"o","x":60,"y":0.5,"e":1.2},{"s":"o","x":62,"y":2.5,"e":1.6},{"s":"o","x":64,"y":4.5,"e":1.8},{"s":"o","x":66,"y":5.3,"e":1.8},{"s":"o","x":68,"y":5.6,"e":1.8},{"s":"o","x":70,"y":5.2,"e":1.8},{"s":"o","x":72,"y":5.6,"e":1.8},{"s":"o","x":74,"y":5.4,"e":1.8},{"s":"o","x":76,"y":5.7,"e":1.8},{"s":"o","x":78,"y":5,"e":1.8},{"s":"o","x":80,"y":5.3,"e":1.8},{"s":"o","x":82,"y":5.2,"e":1.8},{"s":"o","x":84,"y":5.4,"e":1.8},{"s":"o","x":86,"y":6.5,"e":1.8},{"s":"o","x":88,"y":5,"e":1.8},{"s":"o","x":91,"y":4.9,"e":1.7},{"s":"o","x":94,"y":4.5,"e":1.7},{"s":"o","x":97,"y":4.4,"e":1.6},{"s":"o","x":100,"y":4.2,"e":1.6},{"s":"o","x":103,"y":4,"e":1.6},{"s":"o","x":106,"y":3.6,"e":1.6},{"s":"o","x":109,"y":3.5,"e":1.6},{"s":"o","x":112,"y":3.2,"e":1.5},{"s":"o","x":115,"y":3,"e":1.5},{"s":"o","x":118,"y":2.8,"e":1.5},{"s":"o","x":121,"y":2.4,"e":1.5},{"s":"o","x":124,"y":2.6,"e":1.5},{"s":"o","x":127,"y":2.4,"e":1.5},{"s":"o","x":130,"y":2.7,"e":1.5},{"s":"o","x":133,"y":2.3,"e":1.5},{"s":"o","x":136,"y":2.5,"e":1.5},{"s":"o","x":139,"y":2.2,"e":1.5},{"s":"o","x":142,"y":2.4,"e":1.5},{"s":"o","x":145,"y":2.2,"e":1.5},{"s":"o","x":148,"y":2,"e":1.5},{"s":"o","x":151,"y":1.9,"e":1.5},{"s":"o","x":154,"y":1.8,"e":1.5},{"s":"o","x":157,"y":1.6,"e":1.5},{"s":"o","x":160,"y":1.7,"e":1.5},{"s":"o","x":163,"y":1.6,"e":1.5},{"s":"o","x":166,"y":1.5,"e":1.5},{"s":"o","x":169,"y":1.5,"e":1.5},{"s":"o","x":172,"y":1.3,"e":1.4},{"s":"o","x":175,"y":1,"e":1.4},{"s":"o","x":178,"y":0.7,"e":1.3},{"s":"o","x":181,"y":0.2,"e":1.2},{"s":"o","x":184,"y":-0.2,"e":1.2},{"s":"o","x":187,"y":-0.4,"e":1.2},{"s":"o","x":190,"y":-0.6,"e":1.2},{"s":"o","x":194,"y":-0.8,"e":1.2},{"s":"o","x":198,"y":-0.9,"e":1.2},{"s":"o","x":202,"y":-1,"e":1.2},{"s":"o","x":206,"y":-1.2,"e":1.2},{"s":"o","x":210,"y":-1.3,"e":1.3},{"s":"o","x":214,"y":-1.2,"e":1.3},{"s":"o","x":218,"y":-1.4,"e":1.4},{"s":"o","x":222,"y":-1.4,"e":1.4},{"s":"o","x":226,"y":-1.5,"e":1.5},{"s":"o","x":230,"y":-1.5,"e":1.5},{"s":"o","x":234,"y":-1.7,"e":1.6},{"s":"o","x":238,"y":-1.8,"e":1.7}],
"f_g":[{"x":60,"x2":180,"y":-4,"y2":8}],
"f_s":[{"k":"b","x":120,"x2":180,"y":5.26,"y2":5.26},{"k":"z","x":0,"x2":240,"y":0,"y2":0}],
"f_l":[{"s":"n","x":84.9,"x2":93.9,"y":10.56},{"s":"o","x":84.9,"x2":93.9,"y":9.32}],
"f_t":[{"k":"L","x":-37.8,"y":10.74,"t":"f"},{"k":"N","x":36.4,"y":9.49,"t":"AUA"},{"k":"I","x":98.1,"y":10.56,"t":"npr-1 lite-1"},{"k":"R","x":154.9,"y":10.56,"t":"(n=30)"},{"k":"I","x":98.1,"y":9.32,"t":"unc-13; npr-1 lite-1"},{"k":"R","x":192.8,"y":9.32,"t":"(n=25)"},{"k":"P","x":32.2,"y":7.18,"t":"7% O₂"},{"k":"P","x":123.3,"y":7.18,"t":"21% O₂"},{"k":"P","x":212.9,"y":7.18,"t":"7% O₂"},{"k":"T","x":147.1,"y":5.89,"t":"ns"}],
"g":[{"s":"n","x":0,"y":0.2,"e":0.9},{"s":"n","x":3,"y":-0.3,"e":0.9},{"s":"n","x":6,"y":0.4,"e":0.9},{"s":"n","x":9,"y":0,"e":0.9},{"s":"n","x":12,"y":-0.4,"e":0.9},{"s":"n","x":15,"y":0.2,"e":0.9},{"s":"n","x":18,"y":-0.2,"e":0.9},{"s":"n","x":21,"y":0.3,"e":0.9},{"s":"n","x":24,"y":-0.3,"e":0.9},{"s":"n","x":27,"y":0.1,"e":0.9},{"s":"n","x":30,"y":0.4,"e":0.9},{"s":"n","x":33,"y":-0.1,"e":0.9},{"s":"n","x":36,"y":0.2,"e":0.9},{"s":"n","x":39,"y":-0.3,"e":0.9},{"s":"n","x":42,"y":0.1,"e":0.9},{"s":"n","x":45,"y":0.3,"e":0.9},{"s":"n","x":48,"y":-0.2,"e":0.9},{"s":"n","x":51,"y":0.2,"e":0.9},{"s":"n","x":54,"y":-0.1,"e":0.9},{"s":"n","x":57,"y":0.1,"e":0.9},{"s":"n","x":60,"y":0.3,"e":0.9},{"s":"n","x":62,"y":2.8,"e":1},{"s":"n","x":64,"y":3,"e":1},{"s":"n","x":66,"y":2.8,"e":1},{"s":"n","x":68,"y":3,"e":1},{"s":"n","x":70,"y":2.9,"e":1},{"s":"n","x":72,"y":3.1,"e":1},{"s":"n","x":75,"y":2.8,"e":1},{"s":"n","x":78,"y":3.1,"e":1},{"s":"n","x":81,"y":2.9,"e":1},{"s":"n","x":84,"y":3.2,"e":1},{"s":"n","x":87,"y":3,"e":1},{"s":"n","x":90,"y":3.3,"e":1},{"s":"n","x":93,"y":3.1,"e":1},{"s":"n","x":96,"y":3.4,"e":1},{"s":"n","x":99,"y":3.2,"e":1},{"s":"n","x":102,"y":3.3,"e":1},{"s":"n","x":105,"y":3.1,"e":1},{"s":"n","x":108,"y":3.4,"e":1},{"s":"n","x":111,"y":3.3,"e":1},{"s":"n","x":114,"y":3.2,"e":1},{"s":"n","x":117,"y":3.5,"e":1},{"s":"n","x":120,"y":3.3,"e":1},{"s":"n","x":122,"y":3.7,"e":1},{"s":"n","x":125,"y":3.2,"e":1},{"s":"n","x":128,"y":3.4,"e":1},{"s":"n","x":131,"y":3.1,"e":1},{"s":"n","x":134,"y":3.5,"e":1},{"s":"n","x":137,"y":3.2,"e":1},{"s":"n","x":140,"y":3.4,"e":1},{"s":"n","x":143,"y":3,"e":1},{"s":"n","x":146,"y":3.5,"e":1},{"s":"n","x":149,"y":3.3,"e":1},{"s":"n","x":152,"y":3.6,"e":1},{"s":"n","x":155,"y":3.1,"e":1},{"s":"n","x":158,"y":3.5,"e":1},{"s":"n","x":161,"y":3,"e":1},{"s":"n","x":164,"y":3.3,"e":1},{"s":"n","x":167,"y":2.8,"e":1},{"s":"n","x":170,"y":2.9,"e":1},{"s":"n","x":173,"y":2.6,"e":1},{"s":"n","x":176,"y":2.5,"e":1},{"s":"n","x":178,"y":2.2,"e":1},{"s":"n","x":180,"y":2,"e":1},{"s":"n","x":182,"y":1.3,"e":0.9},{"s":"n","x":184,"y":1.1,"e":0.9},{"s":"n","x":186,"y":0.7,"e":0.9},{"s":"n","x":188,"y":0.4,"e":0.9},{"s":"n","x":190,"y":0.2,"e":0.9},{"s":"n","x":193,"y":0.1,"e":0.9},{"s":"n","x":196,"y":0.3,"e":0.9},{"s":"n","x":199,"y":0.2,"e":0.9},{"s":"n","x":202,"y":-0.1,"e":0.9},{"s":"n","x":205,"y":0.3,"e":0.9},{"s":"n","x":208,"y":0,"e":0.9},{"s":"n","x":211,"y":0.2,"e":0.9},{"s":"n","x":214,"y":-0.2,"e":0.9},{"s":"n","x":217,"y":0.1,"e":0.9},{"s":"n","x":220,"y":0.3,"e":0.9},{"s":"n","x":223,"y":-0.2,"e":0.9},{"s":"n","x":226,"y":-0.4,"e":0.9},{"s":"n","x":229,"y":0.1,"e":0.9},{"s":"n","x":232,"y":-0.5,"e":0.9},{"s":"n","x":235,"y":-0.3,"e":0.9},{"s":"n","x":238,"y":-0.6,"e":0.9},{"s":"n","x":240,"y":-1,"e":0.9},
{"s":"r","x":0,"y":0.4,"e":0.6},{"s":"r","x":3,"y":-0.2,"e":0.6},{"s":"r","x":6,"y":0.5,"e":0.6},{"s":"r","x":9,"y":0,"e":0.6},{"s":"r","x":12,"y":-0.3,"e":0.6},{"s":"r","x":15,"y":0.3,"e":0.6},{"s":"r","x":18,"y":-0.4,"e":0.6},{"s":"r","x":21,"y":0.2,"e":0.6},{"s":"r","x":24,"y":-0.2,"e":0.6},{"s":"r","x":27,"y":0.4,"e":0.6},{"s":"r","x":30,"y":-0.1,"e":0.6},{"s":"r","x":33,"y":0.3,"e":0.6},{"s":"r","x":36,"y":-0.3,"e":0.6},{"s":"r","x":39,"y":0.2,"e":0.6},{"s":"r","x":42,"y":-0.5,"e":0.6},{"s":"r","x":45,"y":0.3,"e":0.6},{"s":"r","x":48,"y":0,"e":0.6},{"s":"r","x":51,"y":-0.6,"e":0.6},{"s":"r","x":54,"y":0.2,"e":0.6},{"s":"r","x":57,"y":-0.3,"e":0.6},{"s":"r","x":60,"y":0.2,"e":0.6},{"s":"r","x":62,"y":1.8,"e":0.8},{"s":"r","x":64,"y":0.9,"e":0.8},{"s":"r","x":66,"y":1.3,"e":0.8},{"s":"r","x":68,"y":0.8,"e":0.8},{"s":"r","x":70,"y":1.2,"e":0.8},{"s":"r","x":72,"y":0.7,"e":0.8},{"s":"r","x":75,"y":1.1,"e":0.8},{"s":"r","x":78,"y":0.8,"e":0.8},{"s":"r","x":80,"y":1.4,"e":0.8},{"s":"r","x":82,"y":1.9,"e":0.8},{"s":"r","x":84,"y":1.1,"e":0.8},{"s":"r","x":87,"y":0.9,"e":0.8},{"s":"r","x":90,"y":1.1,"e":0.8},{"s":"r","x":93,"y":0.6,"e":0.8},{"s":"r","x":96,"y":0.9,"e":0.8},{"s":"r","x":99,"y":0.7,"e":0.8},{"s":"r","x":102,"y":1,"e":0.8},{"s":"r","x":105,"y":0.6,"e":0.8},{"s":"r","x":108,"y":0.9,"e":0.8},{"s":"r","x":111,"y":0.5,"e":0.8},{"s":"r","x":114,"y":0.8,"e":0.8},{"s":"r","x":117,"y":0.6,"e":0.8},{"s":"r","x":120,"y":0.9,"e":0.8},{"s":"r","x":123,"y":0.5,"e":0.8},{"s":"r","x":126,"y":0.8,"e":0.8},{"s":"r","x":129,"y":0.4,"e":0.8},{"s":"r","x":132,"y":0.7,"e":0.8},{"s":"r","x":135,"y":0.5,"e":0.8},{"s":"r","x":138,"y":0.8,"e":0.8},{"s":"r","x":141,"y":0.4,"e":0.8},{"s":"r","x":144,"y":0.6,"e":0.8},{"s":"r","x":147,"y":0.3,"e":0.8},{"s":"r","x":150,"y":0.7,"e":0.8},{"s":"r","x":153,"y":0.4,"e":0.8},{"s":"r","x":156,"y":0.6,"e":0.8},{"s":"r","x":159,"y":0.2,"e":0.8},{"s":"r","x":162,"y":0.5,"e":0.8},{"s":"r","x":165,"y":0.3,"e":0.8},{"s":"r","x":168,"y":0.1,"e":0.8},{"s":"r","x":170,"y":-0.5,"e":0.8},{"s":"r","x":172,"y":0.4,"e":0.8},{"s":"r","x":175,"y":0.2,"e":0.8},{"s":"r","x":178,"y":0.5,"e":0.8},{"s":"r","x":181,"y":0.1,"e":0.7},{"s":"r","x":184,"y":0.3,"e":0.7},{"s":"r","x":187,"y":0,"e":0.7},{"s":"r","x":190,"y":0.3,"e":0.7},{"s":"r","x":193,"y":0.1,"e":0.7},{"s":"r","x":196,"y":0.4,"e":0.7},{"s":"r","x":199,"y":-0.1,"e":0.7},{"s":"r","x":202,"y":0.3,"e":0.7},{"s":"r","x":205,"y":0,"e":0.7},{"s":"r","x":208,"y":0.4,"e":0.7},{"s":"r","x":211,"y":-0.2,"e":0.7},{"s":"r","x":214,"y":0.3,"e":0.7},{"s":"r","x":217,"y":0,"e":0.7},{"s":"r","x":220,"y":0.2,"e":0.7},{"s":"r","x":223,"y":-0.3,"e":0.7},{"s":"r","x":226,"y":0.1,"e":0.7},{"s":"r","x":228,"y":-0.8,"e":0.7},{"s":"r","x":231,"y":0.2,"e":0.7},{"s":"r","x":234,"y":-0.1,"e":0.7},{"s":"r","x":237,"y":0.1,"e":0.7},{"s":"r","x":240,"y":-0.4,"e":0.7}],
"g_g":[{"x":60,"x2":180,"y":-2,"y2":6}],
"g_s":[{"k":"b","x":120,"x2":180,"y":5.26,"y2":5.26},{"k":"b","x":0,"x2":0,"y":-2,"y2":6},{"k":"z","x":0,"x2":241,"y":0,"y2":0}],
"g_l":[{"s":"n","x":88.6,"x2":97,"y":7.8},{"s":"r","x":88.6,"x2":97,"y":6.99}],
"g_t":[{"k":"L","x":-44,"y":7.62,"t":"g"},{"k":"N","x":37.3,"y":7.1,"t":"AUA"},{"k":"I","x":99.8,"y":7.8,"t":"npr-1 lite-1"},{"k":"R","x":156.4,"y":7.8,"t":"(n=22)"},{"k":"I","x":99.8,"y":6.99,"t":"egl-21; npr-1 lite-1"},{"k":"R","x":195.1,"y":6.99,"t":"(n=21)"},{"k":"P","x":34.5,"y":-1.43,"t":"7% O₂"},{"k":"P","x":121.4,"y":-1.43,"t":"21% O₂"},{"k":"P","x":212.5,"y":-1.43,"t":"7% O₂"},{"k":"S","x":150.8,"y":5.36,"t":"***"}],
"h":[{"s":"n","x":0,"y":120,"e":3},{"s":"n","x":0.15,"y":112,"e":3},{"s":"n","x":0.3,"y":115,"e":3},{"s":"n","x":0.45,"y":108,"e":3},{"s":"n","x":0.6,"y":118,"e":3},{"s":"n","x":0.75,"y":110,"e":3},{"s":"n","x":0.9,"y":104,"e":3},{"s":"n","x":1.05,"y":116,"e":3},{"s":"n","x":1.2,"y":108,"e":3},{"s":"n","x":1.35,"y":119,"e":3},{"s":"n","x":1.5,"y":110,"e":3},{"s":"n","x":1.65,"y":121,"e":3},{"s":"n","x":1.8,"y":113,"e":3},{"s":"n","x":1.95,"y":118,"e":3},{"s":"n","x":2.1,"y":105,"e":3},{"s":"n","x":2.25,"y":80,"e":3},{"s":"n","x":2.4,"y":55,"e":3},{"s":"n","x":2.6,"y":35,"e":3},{"s":"n","x":2.8,"y":28,"e":3},{"s":"n","x":3,"y":22,"e":3},{"s":"n","x":3.2,"y":18,"e":3},{"s":"n","x":3.4,"y":15,"e":3},{"s":"n","x":3.6,"y":13,"e":3},{"s":"n","x":3.8,"y":11,"e":3},{"s":"n","x":4,"y":10,"e":3},{"s":"n","x":4.1,"y":15,"e":3},{"s":"n","x":4.25,"y":40,"e":3},{"s":"n","x":4.4,"y":60,"e":3},{"s":"n","x":4.6,"y":75,"e":3},{"s":"n","x":4.8,"y":85,"e":3},{"s":"n","x":5,"y":80,"e":3},{"s":"n","x":5.2,"y":92,"e":3},{"s":"n","x":5.4,"y":88,"e":3},{"s":"n","x":5.6,"y":98,"e":3},{"s":"n","x":5.8,"y":92,"e":3},{"s":"n","x":6,"y":100,"e":3},{"s":"n","x":6.2,"y":90,"e":3},{"s":"n","x":6.4,"y":96,"e":3},{"s":"n","x":6.6,"y":94,"e":3},{"s":"n","x":6.8,"y":104,"e":3},{"s":"n","x":7,"y":90,"e":3},{"s":"n","x":7.2,"y":96,"e":3},{"s":"n","x":7.4,"y":83,"e":3},{"s":"n","x":7.6,"y":78,"e":3},{"s":"n","x":7.8,"y":72,"e":3},{"s":"n","x":8,"y":80,"e":3},{"s":"n","x":8.2,"y":92,"e":3},{"s":"n","x":8.4,"y":86,"e":3},{"s":"n","x":8.6,"y":100,"e":3},{"s":"n","x":8.8,"y":92,"e":3},{"s":"n","x":9,"y":96,"e":3},{"s":"n","x":9.2,"y":85,"e":3},{"s":"n","x":9.4,"y":97,"e":3},{"s":"n","x":9.6,"y":82,"e":3},{"s":"n","x":9.8,"y":90,"e":3},{"s":"n","x":10,"y":78,"e":3},{"s":"n","x":10.2,"y":88,"e":3},{"s":"n","x":10.4,"y":80,"e":3},{"s":"n","x":10.6,"y":90,"e":3},{"s":"n","x":10.8,"y":75,"e":3},{"s":"n","x":11,"y":84,"e":3},{"s":"n","x":11.2,"y":72,"e":3},{"s":"n","x":11.4,"y":86,"e":3},{"s":"n","x":11.6,"y":78,"e":3},{"s":"n","x":11.8,"y":90,"e":3},{"s":"n","x":12,"y":76,"e":3},{"s":"n","x":12.3,"y":84,"e":3},{"s":"n","x":12.6,"y":74,"e":3},{"s":"n","x":12.9,"y":82,"e":3},{"s":"n","x":13.2,"y":88,"e":3},{"s":"n","x":13.5,"y":78,"e":3},{"s":"n","x":13.8,"y":70,"e":3},{"s":"n","x":14.1,"y":82,"e":3},{"s":"n","x":14.4,"y":76,"e":3},{"s":"n","x":14.7,"y":72,"e":3},{"s":"n","x":15,"y":80,"e":3},{"s":"n","x":15.3,"y":68,"e":3},{"s":"n","x":15.6,"y":75,"e":3},{"s":"n","x":15.9,"y":82,"e":3},{"s":"n","x":16.2,"y":90,"e":3},{"s":"n","x":16.5,"y":80,"e":3},{"s":"n","x":16.8,"y":88,"e":3},{"s":"n","x":17.1,"y":76,"e":3},{"s":"n","x":17.4,"y":86,"e":3},{"s":"n","x":17.7,"y":74,"e":3},{"s":"n","x":18,"y":82,"e":3},{"s":"n","x":18.3,"y":76,"e":3},{"s":"n","x":18.6,"y":85,"e":3},{"s":"n","x":18.9,"y":72,"e":3},{"s":"n","x":19.2,"y":80,"e":3},{"s":"n","x":19.5,"y":74,"e":3},{"s":"n","x":19.8,"y":78,"e":3},{"s":"n","x":20.1,"y":70,"e":3},{"s":"n","x":20.4,"y":80,"e":3},{"s":"n","x":20.7,"y":76,"e":3},{"s":"n","x":21,"y":86,"e":3},{"s":"n","x":21.3,"y":75,"e":3},{"s":"n","x":21.6,"y":80,"e":3},{"s":"n","x":21.9,"y":72,"e":3},{"s":"n","x":22.2,"y":78,"e":3},{"s":"n","x":22.5,"y":82,"e":3},{"s":"n","x":22.8,"y":76,"e":3},{"s":"n","x":23.1,"y":80,"e":3},{"s":"n","x":23.4,"y":74,"e":3},{"s":"n","x":23.7,"y":78,"e":3},{"s":"n","x":24,"y":74,"e":3},{"s":"n","x":24.2,"y":62,"e":3},{"s":"n","x":24.4,"y":40,"e":3},{"s":"n","x":24.6,"y":25,"e":3},{"s":"n","x":24.9,"y":18,"e":3},{"s":"n","x":25.2,"y":14,"e":3},{"s":"n","x":25.5,"y":12,"e":3},{"s":"n","x":25.8,"y":16,"e":3},{"s":"n","x":26.1,"y":14,"e":3},{"s":"n","x":26.4,"y":18,"e":3},{"s":"n","x":26.7,"y":10,"e":3},{"s":"n","x":27,"y":7,"e":3},
{"s":"r","x":0,"y":45,"e":2},{"s":"r","x":0.25,"y":48,"e":2},{"s":"r","x":0.5,"y":42,"e":2},{"s":"r","x":0.75,"y":47,"e":2},{"s":"r","x":1,"y":44,"e":2},{"s":"r","x":1.25,"y":49,"e":2},{"s":"r","x":1.5,"y":43,"e":2},{"s":"r","x":1.75,"y":46,"e":2},{"s":"r","x":2,"y":41,"e":2},{"s":"r","x":2.25,"y":44,"e":2},{"s":"r","x":2.5,"y":38,"e":2},{"s":"r","x":2.75,"y":42,"e":2},{"s":"r","x":3,"y":36,"e":2},{"s":"r","x":3.25,"y":40,"e":2},{"s":"r","x":3.5,"y":35,"e":2},{"s":"r","x":3.75,"y":39,"e":2},{"s":"r","x":4,"y":34,"e":2},{"s":"r","x":4.25,"y":38,"e":2},{"s":"r","x":4.5,"y":35,"e":2},{"s":"r","x":4.75,"y":40,"e":2},{"s":"r","x":5,"y":36,"e":2},{"s":"r","x":5.25,"y":41,"e":2},{"s":"r","x":5.5,"y":35,"e":2},{"s":"r","x":5.75,"y":39,"e":2},{"s":"r","x":6,"y":34,"e":2},{"s":"r","x":6.25,"y":40,"e":2},{"s":"r","x":6.5,"y":36,"e":2},{"s":"r","x":6.75,"y":41,"e":2},{"s":"r","x":7,"y":34,"e":2},{"s":"r","x":7.25,"y":38,"e":2},{"s":"r","x":7.5,"y":33,"e":2},{"s":"r","x":7.75,"y":37,"e":2},{"s":"r","x":8,"y":35,"e":2},{"s":"r","x":8.25,"y":39,"e":2},{"s":"r","x":8.5,"y":33,"e":2},{"s":"r","x":8.75,"y":37,"e":2},{"s":"r","x":9,"y":34,"e":2},{"s":"r","x":9.25,"y":38,"e":2},{"s":"r","x":9.5,"y":33,"e":2},{"s":"r","x":9.75,"y":36,"e":2},{"s":"r","x":10,"y":34,"e":2},{"s":"r","x":10.25,"y":38,"e":2},{"s":"r","x":10.5,"y":35,"e":2},{"s":"r","x":10.75,"y":32,"e":2},{"s":"r","x":11,"y":36,"e":2},{"s":"r","x":11.25,"y":33,"e":2},{"s":"r","x":11.5,"y":37,"e":2},{"s":"r","x":11.75,"y":34,"e":2},{"s":"r","x":12,"y":36,"e":2},{"s":"r","x":12.25,"y":33,"e":2},{"s":"r","x":12.5,"y":38,"e":2},{"s":"r","x":12.75,"y":35,"e":2},{"s":"r","x":13,"y":37,"e":2},{"s":"r","x":13.25,"y":34,"e":2},{"s":"r","x":13.5,"y":39,"e":2},{"s":"r","x":13.75,"y":36,"e":2},{"s":"r","x":14,"y":41,"e":2},{"s":"r","x":14.25,"y":35,"e":2},{"s":"r","x":14.5,"y":37,"e":2},{"s":"r","x":14.75,"y":33,"e":2},{"s":"r","x":15,"y":34,"e":2},{"s":"r","x":15.25,"y":31,"e":2},{"s":"r","x":15.5,"y":35,"e":2},{"s":"r","x":15.75,"y":32,"e":2},{"s":"r","x":16,"y":34,"e":2},{"s":"r","x":16.25,"y":31,"e":2},{"s":"r","x":16.5,"y":33,"e":2},{"s":"r","x":16.75,"y":30,"e":2},{"s":"r","x":17,"y":34,"e":2},{"s":"r","x":17.25,"y":31,"e":2},{"s":"r","x":17.5,"y":33,"e":2},{"s":"r","x":17.75,"y":30,"e":2},{"s":"r","x":18,"y":32,"e":2},{"s":"r","x":18.25,"y":29,"e":2},{"s":"r","x":18.5,"y":33,"e":2},{"s":"r","x":18.75,"y":30,"e":2},{"s":"r","x":19,"y":31,"e":2},{"s":"r","x":19.25,"y":28,"e":2},{"s":"r","x":19.5,"y":31,"e":2},{"s":"r","x":19.75,"y":29,"e":2},{"s":"r","x":20,"y":30,"e":2},{"s":"r","x":20.25,"y":27,"e":2},{"s":"r","x":20.5,"y":30,"e":2},{"s":"r","x":20.75,"y":28,"e":2},{"s":"r","x":21,"y":29,"e":2},{"s":"r","x":21.25,"y":26,"e":2},{"s":"r","x":21.5,"y":29,"e":2},{"s":"r","x":21.75,"y":27,"e":2},{"s":"r","x":22,"y":29,"e":2},{"s":"r","x":22.25,"y":26,"e":2},{"s":"r","x":22.5,"y":28,"e":2},{"s":"r","x":22.75,"y":26,"e":2},{"s":"r","x":23,"y":28,"e":2},{"s":"r","x":23.25,"y":25,"e":2},{"s":"r","x":23.5,"y":27,"e":2},{"s":"r","x":23.75,"y":25,"e":2},{"s":"r","x":24,"y":27,"e":2},{"s":"r","x":24.25,"y":24,"e":2},{"s":"r","x":24.5,"y":26,"e":2},{"s":"r","x":24.75,"y":23,"e":2},{"s":"r","x":25,"y":27,"e":2},{"s":"r","x":25.25,"y":30,"e":2},{"s":"r","x":25.5,"y":28,"e":2},{"s":"r","x":25.75,"y":24,"e":2},{"s":"r","x":26,"y":22,"e":2},{"s":"r","x":26.25,"y":27,"e":2},{"s":"r","x":26.5,"y":24,"e":2},{"s":"r","x":26.75,"y":25,"e":2},{"s":"r","x":27,"y":24,"e":2}],
"h_g":[{"x":0,"x2":2,"y":0,"y2":200},{"x":4,"x2":24.2,"y":0,"y2":200}],
"h_l":[{"s":"n","x":0.43,"x2":1.69,"y":238.7},{"s":"r","x":0.43,"x2":1.69,"y":219.4}],
"h_t":[{"k":"L","x":-6.38,"y":231,"t":"h"},{"k":"I","x":2.22,"y":238.7,"t":"npr-1"},{"k":"R","x":5.95,"y":238.7,"t":"mock ablation"},{"k":"I","x":2.22,"y":219.4,"t":"npr-1"},{"k":"R","x":5.95,"y":219.4,"t":"RMG ablated"},{"k":"P","x":1.15,"y":189.5,"t":"21%"},{"k":"P","x":3.66,"y":189.5,"t":"7%"},{"k":"P","x":13.87,"y":189.5,"t":"21% O₂"},{"k":"P","x":26.05,"y":189.5,"t":"7%"}],
"o2":[{"x":0,"y":20.9},{"x":30,"y":21},{"x":60,"y":20.9},{"x":90,"y":21},{"x":120,"y":20.9},{"x":145,"y":21},{"x":150,"y":20.3},{"x":160,"y":18.8},{"x":172,"y":16.8},{"x":184,"y":14.9},{"x":196,"y":13.3},{"x":208,"y":12.1},{"x":220,"y":10.6},{"x":232,"y":9.3},{"x":241,"y":8.4},{"x":249,"y":7.8},{"x":260,"y":7.4},{"x":300,"y":7.3},{"x":340,"y":7.35},{"x":380,"y":7.3},{"x":386,"y":7.4},{"x":392,"y":8.2},{"x":398,"y":8.8},{"x":410,"y":10.6},{"x":422,"y":12.1},{"x":436,"y":13.8},{"x":451,"y":15.4},{"x":463,"y":17.2},{"x":475,"y":18.8},{"x":484,"y":19.9},{"x":493,"y":20.7},{"x":510,"y":20.9},{"x":540,"y":21},{"x":570,"y":20.9},{"x":604,"y":21},{"x":607,"y":20.4},{"x":610,"y":16.5},{"x":613,"y":12.5},{"x":617,"y":9.5},{"x":621,"y":8.5},{"x":628,"y":8},{"x":636,"y":7.8},{"x":660,"y":7.6},{"x":700,"y":7.6},{"x":725,"y":7.6},{"x":728,"y":9.5},{"x":731,"y":13.5},{"x":734,"y":17},{"x":738,"y":19},{"x":742,"y":19.9},{"x":754,"y":20.6},{"x":780,"y":20.8},{"x":820,"y":20.9},{"x":860,"y":20.9},{"x":898,"y":20.9}],
"i":[{"s":"n","x":0,"y":75,"e":3},{"s":"n","x":6,"y":78,"e":3},{"s":"n","x":12,"y":88,"e":3},{"s":"n","x":18,"y":92,"e":3},{"s":"n","x":24,"y":90,"e":3},{"s":"n","x":30,"y":96,"e":3},{"s":"n","x":36,"y":94,"e":3},{"s":"n","x":42,"y":100,"e":3},{"s":"n","x":48,"y":98,"e":3},{"s":"n","x":54,"y":106,"e":3},{"s":"n","x":60,"y":110,"e":3},{"s":"n","x":66,"y":104,"e":3},{"s":"n","x":72,"y":103,"e":3},{"s":"n","x":78,"y":108,"e":3},{"s":"n","x":84,"y":105,"e":3},{"s":"n","x":90,"y":107,"e":3},{"s":"n","x":96,"y":112,"e":3},{"s":"n","x":102,"y":120,"e":3},{"s":"n","x":108,"y":114,"e":3},{"s":"n","x":114,"y":118,"e":3},{"s":"n","x":120,"y":115,"e":3},{"s":"n","x":126,"y":117,"e":3},{"s":"n","x":132,"y":114,"e":3},{"s":"n","x":138,"y":118,"e":3},{"s":"n","x":144,"y":115,"e":3},{"s":"n","x":150,"y":110,"e":3},{"s":"n","x":156,"y":104,"e":3},{"s":"n","x":162,"y":96,"e":3},{"s":"n","x":168,"y":88,"e":3},{"s":"n","x":174,"y":82,"e":3},{"s":"n","x":180,"y":78,"e":3},{"s":"n","x":186,"y":72,"e":3},{"s":"n","x":192,"y":55,"e":3},{"s":"n","x":198,"y":42,"e":3},{"s":"n","x":204,"y":33,"e":3},{"s":"n","x":210,"y":33,"e":3},{"s":"n","x":216,"y":31,"e":3},{"s":"n","x":222,"y":30,"e":3},{"s":"n","x":228,"y":29,"e":3},{"s":"n","x":234,"y":28,"e":3},{"s":"n","x":240,"y":25,"e":3},{"s":"n","x":246,"y":22,"e":3},{"s":"n","x":252,"y":21,"e":3},{"s":"n","x":258,"y":20,"e":3},{"s":"n","x":264,"y":22,"e":3},{"s":"n","x":270,"y":20,"e":3},{"s":"n","x":276,"y":19,"e":3},{"s":"n","x":282,"y":20,"e":3},{"s":"n","x":288,"y":17,"e":3},{"s":"n","x":294,"y":16,"e":3},{"s":"n","x":300,"y":14,"e":3},{"s":"n","x":306,"y":12,"e":3},{"s":"n","x":312,"y":11,"e":3},{"s":"n","x":318,"y":13,"e":3},{"s":"n","x":324,"y":10,"e":3},{"s":"n","x":330,"y":11,"e":3},{"s":"n","x":336,"y":12,"e":3},{"s":"n","x":342,"y":11,"e":3},{"s":"n","x":348,"y":13,"e":3},{"s":"n","x":354,"y":12,"e":3},{"s":"n","x":360,"y":13,"e":3},{"s":"n","x":366,"y":14,"e":3},{"s":"n","x":372,"y":14,"e":3},{"s":"n","x":378,"y":15,"e":3},{"s":"n","x":384,"y":14,"e":3},{"s":"n","x":390,"y":15,"e":3},{"s":"n","x":396,"y":16,"e":3},{"s":"n","x":402,"y":18,"e":3},{"s":"n","x":408,"y":22,"e":3},{"s":"n","x":414,"y":26,"e":3},{"s":"n","x":420,"y":25,"e":3},{"s":"n","x":426,"y":28,"e":3},{"s":"n","x":432,"y":27,"e":3},{"s":"n","x":438,"y":30,"e":3},{"s":"n","x":444,"y":40,"e":3},{"s":"n","x":450,"y":48,"e":3},{"s":"n","x":456,"y":50,"e":3},{"s":"n","x":462,"y":60,"e":3},{"s":"n","x":468,"y":68,"e":3},{"s":"n","x":474,"y":72,"e":3},{"s":"n","x":480,"y":74,"e":3},{"s":"n","x":486,"y":77,"e":3},{"s":"n","x":492,"y":80,"e":3},{"s":"n","x":498,"y":82,"e":3},{"s":"n","x":504,"y":86,"e":3},{"s":"n","x":510,"y":84,"e":3},{"s":"n","x":516,"y":88,"e":3},{"s":"n","x":522,"y":87,"e":3},{"s":"n","x":528,"y":90,"e":3},{"s":"n","x":534,"y":86,"e":3},{"s":"n","x":540,"y":92,"e":3},{"s":"n","x":546,"y":90,"e":3},{"s":"n","x":552,"y":93,"e":3},{"s":"n","x":558,"y":90,"e":3},{"s":"n","x":564,"y":95,"e":3},{"s":"n","x":570,"y":100,"e":3},{"s":"n","x":576,"y":97,"e":3},{"s":"n","x":582,"y":98,"e":3},{"s":"n","x":588,"y":90,"e":3},{"s":"n","x":594,"y":86,"e":3},{"s":"n","x":600,"y":92,"e":3},{"s":"n","x":606,"y":88,"e":3},{"s":"n","x":612,"y":84,"e":3},{"s":"n","x":618,"y":72,"e":3},{"s":"n","x":624,"y":55,"e":3},{"s":"n","x":630,"y":38,"e":3},{"s":"n","x":636,"y":30,"e":3},{"s":"n","x":642,"y":26,"e":3},{"s":"n","x":648,"y":22,"e":3},{"s":"n","x":654,"y":20,"e":3},{"s":"n","x":660,"y":18,"e":3},{"s":"n","x":666,"y":16,"e":3},{"s":"n","x":672,"y":15,"e":3},{"s":"n","x":678,"y":14,"e":3},{"s":"n","x":684,"y":14,"e":3},{"s":"n","x":690,"y":12,"e":3},{"s":"n","x":696,"y":12,"e":3},{"s":"n","x":702,"y":11,"e":3},{"s":"n","x":708,"y":10,"e":3},{"s":"n","x":714,"y":10,"e":3},{"s":"n","x":720,"y":9,"e":3},{"s":"n","x":726,"y":10,"e":3},{"s":"n","x":732,"y":25,"e":3},{"s":"n","x":738,"y":40,"e":3},{"s":"n","x":744,"y":50,"e":3},{"s":"n","x":750,"y":55,"e":3},{"s":"n","x":756,"y":62,"e":3},{"s":"n","x":762,"y":66,"e":3},{"s":"n","x":768,"y":68,"e":3},{"s":"n","x":774,"y":72,"e":3},{"s":"n","x":780,"y":78,"e":3},{"s":"n","x":786,"y":83,"e":3},{"s":"n","x":792,"y":80,"e":3},{"s":"n","x":798,"y":84,"e":3},{"s":"n","x":804,"y":78,"e":3},{"s":"n","x":810,"y":82,"e":3},{"s":"n","x":816,"y":76,"e":3},{"s":"n","x":822,"y":80,"e":3},{"s":"n","x":828,"y":74,"e":3},{"s":"n","x":834,"y":80,"e":3},{"s":"n","x":840,"y":76,"e":3},{"s":"n","x":846,"y":72,"e":3},{"s":"n","x":852,"y":78,"e":3},{"s":"n","x":858,"y":74,"e":3},{"s":"n","x":864,"y":70,"e":3},{"s":"n","x":870,"y":76,"e":3},{"s":"n","x":876,"y":72,"e":3},{"s":"n","x":882,"y":86,"e":3},{"s":"n","x":888,"y":84,"e":3},{"s":"n","x":894,"y":90,"e":3},{"s":"n","x":898,"y":88,"e":3},
{"s":"r","x":0,"y":50,"e":2},{"s":"r","x":8,"y":45,"e":2},{"s":"r","x":16,"y":42,"e":2},{"s":"r","x":24,"y":48,"e":2},{"s":"r","x":32,"y":46,"e":2},{"s":"r","x":40,"y":55,"e":2},{"s":"r","x":48,"y":50,"e":2},{"s":"r","x":56,"y":44,"e":2},{"s":"r","x":64,"y":46,"e":2},{"s":"r","x":72,"y":42,"e":2},{"s":"r","x":80,"y":50,"e":2},{"s":"r","x":88,"y":45,"e":2},{"s":"r","x":96,"y":40,"e":2},{"s":"r","x":104,"y":44,"e":2},{"s":"r","x":112,"y":38,"e":2},{"s":"r","x":120,"y":40,"e":2},{"s":"r","x":128,"y":35,"e":2},{"s":"r","x":136,"y":38,"e":2},{"s":"r","x":144,"y":33,"e":2},{"s":"r","x":152,"y":38,"e":2},{"s":"r","x":160,"y":44,"e":2},{"s":"r","x":168,"y":50,"e":2},{"s":"r","x":176,"y":44,"e":2},{"s":"r","x":184,"y":48,"e":2},{"s":"r","x":192,"y":40,"e":2},{"s":"r","x":200,"y":42,"e":2},{"s":"r","x":208,"y":36,"e":2},{"s":"r","x":216,"y":40,"e":2},{"s":"r","x":224,"y":34,"e":2},{"s":"r","x":232,"y":38,"e":2},{"s":"r","x":240,"y":32,"e":2},{"s":"r","x":248,"y":40,"e":2},{"s":"r","x":256,"y":33,"e":2},{"s":"r","x":264,"y":36,"e":2},{"s":"r","x":272,"y":30,"e":2},{"s":"r","x":280,"y":38,"e":2},{"s":"r","x":288,"y":32,"e":2},{"s":"r","x":296,"y":36,"e":2},{"s":"r","x":304,"y":30,"e":2},{"s":"r","x":312,"y":35,"e":2},{"s":"r","x":320,"y":33,"e":2},{"s":"r","x":328,"y":38,"e":2},{"s":"r","x":336,"y":30,"e":2},{"s":"r","x":344,"y":34,"e":2},{"s":"r","x":352,"y":31,"e":2},{"s":"r","x":360,"y":36,"e":2},{"s":"r","x":368,"y":32,"e":2},{"s":"r","x":376,"y":33,"e":2},{"s":"r","x":384,"y":30,"e":2},{"s":"r","x":392,"y":32,"e":2},{"s":"r","x":400,"y":28,"e":2},{"s":"r","x":408,"y":30,"e":2},{"s":"r","x":416,"y":27,"e":2},{"s":"r","x":424,"y":29,"e":2},{"s":"r","x":432,"y":28,"e":2},{"s":"r","x":440,"y":28,"e":2},{"s":"r","x":448,"y":30,"e":2},{"s":"r","x":456,"y":31,"e":2},{"s":"r","x":464,"y":32,"e":2},{"s":"r","x":472,"y":34,"e":2},{"s":"r","x":480,"y":32,"e":2},{"s":"r","x":488,"y":35,"e":2},{"s":"r","x":496,"y":37,"e":2},{"s":"r","x":504,"y":41,"e":2},{"s":"r","x":512,"y":38,"e":2},{"s":"r","x":520,"y":35,"e":2},{"s":"r","x":528,"y":38,"e":2},{"s":"r","x":536,"y":33,"e":2},{"s":"r","x":544,"y":36,"e":2},{"s":"r","x":552,"y":32,"e":2},{"s":"r","x":560,"y":35,"e":2},{"s":"r","x":568,"y":33,"e":2},{"s":"r","x":576,"y":36,"e":2},{"s":"r","x":584,"y":32,"e":2},{"s":"r","x":592,"y":34,"e":2},{"s":"r","x":600,"y":31,"e":2},{"s":"r","x":608,"y":34,"e":2},{"s":"r","x":616,"y":33,"e":2},{"s":"r","x":624,"y":36,"e":2},{"s":"r","x":632,"y":34,"e":2},{"s":"r","x":640,"y":37,"e":2},{"s":"r","x":648,"y":33,"e":2},{"s":"r","x":656,"y":35,"e":2},{"s":"r","x":664,"y":30,"e":2},{"s":"r","x":672,"y":34,"e":2},{"s":"r","x":680,"y":29,"e":2},{"s":"r","x":688,"y":33,"e":2},{"s":"r","x":696,"y":30,"e":2},{"s":"r","x":704,"y":32,"e":2},{"s":"r","x":712,"y":29,"e":2},{"s":"r","x":720,"y":33,"e":2},{"s":"r","x":728,"y":30,"e":2},{"s":"r","x":736,"y":31,"e":2},{"s":"r","x":744,"y":28,"e":2},{"s":"r","x":752,"y":32,"e":2},{"s":"r","x":760,"y":29,"e":2},{"s":"r","x":768,"y":31,"e":2},{"s":"r","x":776,"y":27,"e":2},{"s":"r","x":784,"y":30,"e":2},{"s":"r","x":792,"y":28,"e":2},{"s":"r","x":800,"y":29,"e":2},{"s":"r","x":808,"y":26,"e":2},{"s":"r","x":816,"y":28,"e":2},{"s":"r","x":824,"y":25,"e":2},{"s":"r","x":832,"y":27,"e":2},{"s":"r","x":840,"y":26,"e":2},{"s":"r","x":848,"y":25,"e":2},{"s":"r","x":856,"y":28,"e":2},{"s":"r","x":864,"y":26,"e":2},{"s":"r","x":872,"y":27,"e":2},{"s":"r","x":880,"y":25,"e":2},{"s":"r","x":888,"y":27,"e":2},{"s":"r","x":898,"y":26,"e":2}],
"i_s":[{"x":303,"x2":362,"y":126},{"x":543,"x2":602,"y":126},{"x":663,"x2":721,"y":126},{"x":734,"x2":792,"y":126}],
"i_l":[{"s":"n","x":23.8,"x2":59.5,"y":257},{"s":"r","x":23.8,"x2":59.5,"y":236.6}],
"i_t":[{"k":"L","x":-172,"y":258.6,"t":"i"},{"k":"I","x":71.3,"y":257,"t":"npr-1"},{"k":"R","x":193.6,"y":257,"t":"mock ablation"},{"k":"I","x":71.3,"y":236.6,"t":"npr-1"},{"k":"R","x":193.6,"y":236.6,"t":"RMG ablated"},{"k":"S","x":332.5,"y":128.6,"t":"***"},{"k":"S","x":573.8,"y":128.6,"t":"***"},{"k":"S","x":692.5,"y":128.6,"t":"***"},{"k":"S","x":763.8,"y":128.6,"t":"***"}],
"j":[{"s":"n","x":0,"y":112,"e":3},{"s":"n","x":6,"y":115,"e":3},{"s":"n","x":12,"y":120,"e":3},{"s":"n","x":18,"y":124,"e":3},{"s":"n","x":24,"y":127,"e":3},{"s":"n","x":30,"y":130,"e":3},{"s":"n","x":36,"y":132,"e":3},{"s":"n","x":42,"y":134,"e":3},{"s":"n","x":48,"y":136,"e":3},{"s":"n","x":54,"y":138,"e":3},{"s":"n","x":60,"y":140,"e":3},{"s":"n","x":66,"y":130,"e":3},{"s":"n","x":72,"y":123,"e":3},{"s":"n","x":78,"y":128,"e":3},{"s":"n","x":84,"y":134,"e":3},{"s":"n","x":90,"y":131,"e":3},{"s":"n","x":96,"y":127,"e":3},{"s":"n","x":102,"y":135,"e":3},{"s":"n","x":108,"y":136,"e":3},{"s":"n","x":114,"y":128,"e":3},{"s":"n","x":120,"y":123,"e":3},{"s":"n","x":126,"y":130,"e":3},{"s":"n","x":132,"y":138,"e":3},{"s":"n","x":138,"y":134,"e":3},{"s":"n","x":144,"y":126,"e":3},{"s":"n","x":150,"y":115,"e":3},{"s":"n","x":156,"y":100,"e":3},{"s":"n","x":162,"y":88,"e":3},{"s":"n","x":168,"y":72,"e":3},{"s":"n","x":174,"y":63,"e":3},{"s":"n","x":180,"y":60,"e":3},{"s":"n","x":186,"y":55,"e":3},{"s":"n","x":192,"y":44,"e":3},{"s":"n","x":198,"y":38,"e":3},{"s":"n","x":204,"y":32,"e":3},{"s":"n","x":210,"y":26,"e":3},{"s":"n","x":216,"y":21,"e":3},{"s":"n","x":222,"y":19,"e":3},{"s":"n","x":228,"y":17,"e":3},{"s":"n","x":234,"y":16,"e":3},{"s":"n","x":240,"y":15,"e":3},{"s":"n","x":246,"y":14,"e":3},{"s":"n","x":252,"y":13,"e":3},{"s":"n","x":258,"y":12,"e":3},{"s":"n","x":264,"y":14,"e":3},{"s":"n","x":270,"y":11,"e":3},{"s":"n","x":276,"y":13,"e":3},{"s":"n","x":282,"y":10,"e":3},{"s":"n","x":288,"y":14,"e":3},{"s":"n","x":294,"y":11,"e":3},{"s":"n","x":300,"y":13,"e":3},{"s":"n","x":306,"y":15,"e":3},{"s":"n","x":312,"y":12,"e":3},{"s":"n","x":318,"y":11,"e":3},{"s":"n","x":324,"y":13,"e":3},{"s":"n","x":330,"y":10,"e":3},{"s":"n","x":336,"y":12,"e":3},{"s":"n","x":342,"y":13,"e":3},{"s":"n","x":348,"y":11,"e":3},{"s":"n","x":354,"y":14,"e":3},{"s":"n","x":360,"y":12,"e":3},{"s":"n","x":366,"y":13,"e":3},{"s":"n","x":372,"y":10,"e":3},{"s":"n","x":378,"y":11,"e":3},{"s":"n","x":384,"y":10,"e":3},{"s":"n","x":390,"y":14,"e":3},{"s":"n","x":396,"y":16,"e":3},{"s":"n","x":402,"y":18,"e":3},{"s":"n","x":408,"y":19,"e":3},{"s":"n","x":414,"y":22,"e":3},{"s":"n","x":420,"y":24,"e":3},{"s":"n","x":426,"y":28,"e":3},{"s":"n","x":432,"y":33,"e":3},{"s":"n","x":438,"y":38,"e":3},{"s":"n","x":444,"y":42,"e":3},{"s":"n","x":450,"y":46,"e":3},{"s":"n","x":456,"y":52,"e":3},{"s":"n","x":462,"y":58,"e":3},{"s":"n","x":468,"y":68,"e":3},{"s":"n","x":474,"y":76,"e":3},{"s":"n","x":480,"y":82,"e":3},{"s":"n","x":486,"y":88,"e":3},{"s":"n","x":492,"y":92,"e":3},{"s":"n","x":498,"y":95,"e":3},{"s":"n","x":504,"y":98,"e":3},{"s":"n","x":510,"y":100,"e":3},{"s":"n","x":516,"y":96,"e":3},{"s":"n","x":522,"y":103,"e":3},{"s":"n","x":528,"y":101,"e":3},{"s":"n","x":534,"y":104,"e":3},{"s":"n","x":540,"y":99,"e":3},{"s":"n","x":546,"y":100,"e":3},{"s":"n","x":552,"y":106,"e":3},{"s":"n","x":558,"y":102,"e":3},{"s":"n","x":564,"y":107,"e":3},{"s":"n","x":570,"y":98,"e":3},{"s":"n","x":576,"y":100,"e":3},{"s":"n","x":582,"y":108,"e":3},{"s":"n","x":588,"y":102,"e":3},{"s":"n","x":594,"y":106,"e":3},{"s":"n","x":600,"y":100,"e":3},{"s":"n","x":606,"y":90,"e":3},{"s":"n","x":612,"y":58,"e":3},{"s":"n","x":618,"y":38,"e":3},{"s":"n","x":624,"y":30,"e":3},{"s":"n","x":630,"y":26,"e":3},{"s":"n","x":636,"y":23,"e":3},{"s":"n","x":642,"y":20,"e":3},{"s":"n","x":648,"y":19,"e":3},{"s":"n","x":654,"y":17,"e":3},{"s":"n","x":660,"y":17,"e":3},{"s":"n","x":666,"y":15,"e":3},{"s":"n","x":672,"y":16,"e":3},{"s":"n","x":678,"y":13,"e":3},{"s":"n","x":684,"y":14,"e":3},{"s":"n","x":690,"y":12,"e":3},{"s":"n","x":696,"y":13,"e":3},{"s":"n","x":702,"y":11,"e":3},{"s":"n","x":708,"y":10,"e":3},{"s":"n","x":714,"y":9,"e":3},{"s":"n","x":720,"y":11,"e":3},{"s":"n","x":726,"y":15,"e":3},{"s":"n","x":732,"y":35,"e":3},{"s":"n","x":738,"y":46,"e":3},{"s":"n","x":744,"y":54,"e":3},{"s":"n","x":750,"y":60,"e":3},{"s":"n","x":756,"y":66,"e":3},{"s":"n","x":762,"y":72,"e":3},{"s":"n","x":768,"y":78,"e":3},{"s":"n","x":774,"y":84,"e":3},{"s":"n","x":780,"y":86,"e":3},{"s":"n","x":786,"y":84,"e":3},{"s":"n","x":792,"y":88,"e":3},{"s":"n","x":798,"y":86,"e":3},{"s":"n","x":804,"y":82,"e":3},{"s":"n","x":810,"y":80,"e":3},{"s":"n","x":816,"y":86,"e":3},{"s":"n","x":822,"y":88,"e":3},{"s":"n","x":828,"y":91,"e":3},{"s":"n","x":834,"y":86,"e":3},{"s":"n","x":840,"y":89,"e":3},{"s":"n","x":846,"y":88,"e":3},{"s":"n","x":852,"y":86,"e":3},{"s":"n","x":858,"y":90,"e":3},{"s":"n","x":864,"y":88,"e":3},{"s":"n","x":870,"y":91,"e":3},{"s":"n","x":876,"y":88,"e":3},{"s":"n","x":882,"y":90,"e":3},{"s":"n","x":888,"y":93,"e":3},{"s":"n","x":894,"y":92,"e":3},{"s":"n","x":898,"y":95,"e":3},
{"s":"r","x":0,"y":86,"e":2},{"s":"r","x":6,"y":90,"e":2},{"s":"r","x":12,"y":95,"e":2},{"s":"r","x":18,"y":99,"e":2},{"s":"r","x":24,"y":100,"e":2},{"s":"r","x":30,"y":103,"e":2},{"s":"r","x":36,"y":104,"e":2},{"s":"r","x":42,"y":107,"e":2},{"s":"r","x":48,"y":110,"e":2},{"s":"r","x":54,"y":113,"e":2},{"s":"r","x":60,"y":115,"e":2},{"s":"r","x":66,"y":108,"e":2},{"s":"r","x":72,"y":104,"e":2},{"s":"r","x":78,"y":101,"e":2},{"s":"r","x":84,"y":105,"e":2},{"s":"r","x":90,"y":103,"e":2},{"s":"r","x":96,"y":106,"e":2},{"s":"r","x":102,"y":105,"e":2},{"s":"r","x":108,"y":102,"e":2},{"s":"r","x":114,"y":104,"e":2},{"s":"r","x":120,"y":101,"e":2},{"s":"r","x":126,"y":106,"e":2},{"s":"r","x":132,"y":119,"e":2},{"s":"r","x":138,"y":108,"e":2},{"s":"r","x":144,"y":102,"e":2},{"s":"r","x":150,"y":95,"e":2},{"s":"r","x":156,"y":82,"e":2},{"s":"r","x":162,"y":70,"e":2},{"s":"r","x":168,"y":58,"e":2},{"s":"r","x":174,"y":50,"e":2},{"s":"r","x":180,"y":42,"e":2},{"s":"r","x":186,"y":36,"e":2},{"s":"r","x":192,"y":32,"e":2},{"s":"r","x":198,"y":27,"e":2},{"s":"r","x":204,"y":23,"e":2},{"s":"r","x":210,"y":18,"e":2},{"s":"r","x":216,"y":15,"e":2},{"s":"r","x":222,"y":13,"e":2},{"s":"r","x":228,"y":12,"e":2},{"s":"r","x":234,"y":12,"e":2},{"s":"r","x":240,"y":11,"e":2},{"s":"r","x":246,"y":10,"e":2},{"s":"r","x":252,"y":11,"e":2},{"s":"r","x":258,"y":10,"e":2},{"s":"r","x":264,"y":9,"e":2},{"s":"r","x":270,"y":10,"e":2},{"s":"r","x":276,"y":11,"e":2},{"s":"r","x":282,"y":9,"e":2},{"s":"r","x":288,"y":10,"e":2},{"s":"r","x":294,"y":11,"e":2},{"s":"r","x":300,"y":9,"e":2},{"s":"r","x":306,"y":10,"e":2},{"s":"r","x":312,"y":11,"e":2},{"s":"r","x":318,"y":9,"e":2},{"s":"r","x":324,"y":11,"e":2},{"s":"r","x":330,"y":12,"e":2},{"s":"r","x":336,"y":10,"e":2},{"s":"r","x":342,"y":11,"e":2},{"s":"r","x":348,"y":10,"e":2},{"s":"r","x":354,"y":12,"e":2},{"s":"r","x":360,"y":9,"e":2},{"s":"r","x":366,"y":11,"e":2},{"s":"r","x":372,"y":10,"e":2},{"s":"r","x":378,"y":12,"e":2},{"s":"r","x":384,"y":11,"e":2},{"s":"r","x":390,"y":12,"e":2},{"s":"r","x":396,"y":14,"e":2},{"s":"r","x":402,"y":15,"e":2},{"s":"r","x":408,"y":16,"e":2},{"s":"r","x":414,"y":18,"e":2},{"s":"r","x":420,"y":21,"e":2},{"s":"r","x":426,"y":24,"e":2},{"s":"r","x":432,"y":29,"e":2},{"s":"r","x":438,"y":35,"e":2},{"s":"r","x":444,"y":40,"e":2},{"s":"r","x":450,"y":45,"e":2},{"s":"r","x":456,"y":50,"e":2},{"s":"r","x":462,"y":56,"e":2},{"s":"r","x":468,"y":63,"e":2},{"s":"r","x":474,"y":69,"e":2},{"s":"r","x":480,"y":73,"e":2},{"s":"r","x":486,"y":76,"e":2},{"s":"r","x":492,"y":80,"e":2},{"s":"r","x":498,"y":82,"e":2},{"s":"r","x":504,"y":84,"e":2},{"s":"r","x":510,"y":85,"e":2},{"s":"r","x":516,"y":86,"e":2},{"s":"r","x":522,"y":84,"e":2},{"s":"r","x":528,"y":88,"e":2},{"s":"r","x":534,"y":90,"e":2},{"s":"r","x":540,"y":88,"e":2},{"s":"r","x":546,"y":92,"e":2},{"s":"r","x":552,"y":90,"e":2},{"s":"r","x":558,"y":93,"e":2},{"s":"r","x":564,"y":96,"e":2},{"s":"r","x":570,"y":94,"e":2},{"s":"r","x":576,"y":92,"e":2},{"s":"r","x":582,"y":90,"e":2},{"s":"r","x":588,"y":88,"e":2},{"s":"r","x":594,"y":86,"e":2},{"s":"r","x":600,"y":84,"e":2},{"s":"r","x":606,"y":76,"e":2},{"s":"r","x":612,"y":49,"e":2},{"s":"r","x":618,"y":32,"e":2},{"s":"r","x":624,"y":24,"e":2},{"s":"r","x":630,"y":20,"e":2},{"s":"r","x":636,"y":17,"e":2},{"s":"r","x":642,"y":15,"e":2},{"s":"r","x":648,"y":14,"e":2},{"s":"r","x":654,"y":13,"e":2},{"s":"r","x":660,"y":12,"e":2},{"s":"r","x":666,"y":12,"e":2},{"s":"r","x":672,"y":11,"e":2},{"s":"r","x":678,"y":11,"e":2},{"s":"r","x":684,"y":10,"e":2},{"s":"r","x":690,"y":10,"e":2},{"s":"r","x":696,"y":9,"e":2},{"s":"r","x":702,"y":9,"e":2},{"s":"r","x":708,"y":8,"e":2},{"s":"r","x":714,"y":7,"e":2},{"s":"r","x":720,"y":8,"e":2},{"s":"r","x":726,"y":12,"e":2},{"s":"r","x":732,"y":32,"e":2},{"s":"r","x":738,"y":46,"e":2},{"s":"r","x":744,"y":52,"e":2},{"s":"r","x":750,"y":58,"e":2},{"s":"r","x":756,"y":62,"e":2},{"s":"r","x":762,"y":66,"e":2},{"s":"r","x":768,"y":69,"e":2},{"s":"r","x":774,"y":71,"e":2},{"s":"r","x":780,"y":70,"e":2},{"s":"r","x":786,"y":72,"e":2},{"s":"r","x":792,"y":73,"e":2},{"s":"r","x":798,"y":71,"e":2},{"s":"r","x":804,"y":74,"e":2},{"s":"r","x":810,"y":76,"e":2},{"s":"r","x":816,"y":74,"e":2},{"s":"r","x":822,"y":78,"e":2},{"s":"r","x":828,"y":80,"e":2},{"s":"r","x":834,"y":77,"e":2},{"s":"r","x":840,"y":80,"e":2},{"s":"r","x":846,"y":79,"e":2},{"s":"r","x":852,"y":82,"e":2},{"s":"r","x":858,"y":81,"e":2},{"s":"r","x":864,"y":80,"e":2},{"s":"r","x":870,"y":82,"e":2},{"s":"r","x":876,"y":79,"e":2},{"s":"r","x":882,"y":82,"e":2},{"s":"r","x":888,"y":80,"e":2},{"s":"r","x":894,"y":83,"e":2},{"s":"r","x":898,"y":84,"e":2}],
"j_s":[{"x":302.9,"x2":362.4,"y":126},{"x":542.8,"x2":602.3,"y":126},{"x":665.4,"x2":723.5,"y":126},{"x":742.4,"x2":800.8,"y":126}],
"j_l":[{"s":"n","x":26,"x2":61.6,"y":254},{"s":"r","x":26,"x2":61.6,"y":235.5}],
"j_t":[{"k":"L","x":-205.6,"y":258.6,"t":"j"},{"k":"I","x":79.5,"y":254,"t":"npr-1"},{"k":"R","x":204.2,"y":254,"t":"mock ablation"},{"k":"I","x":79.5,"y":235.5,"t":"npr-1"},{"k":"R","x":204.2,"y":235.5,"t":"AUA ablated"},{"k":"S","x":571,"y":128.6,"t":"***"},{"k":"S","x":770.8,"y":128.6,"t":"**"},{"k":"T","x":331.4,"y":133.8,"t":"ns"},{"k":"T","x":693,"y":133.8,"t":"ns"}]
},
"vconcat":[
{"vconcat":[
{"hconcat":[
{"width":281,"height":160,
"encoding":{"x":{"field":"x","type":"quantitative","scale":{"domain":[-0.25,28.7],"nice":false,"zero":false},"axis":{"title":"Time (min)","values":[0,2,4,6,8,10,12,14,16,18,20,22,24,26,28],"labelExpr":"datum.value % 4 == 0 ? datum.label : ''","tickSize":{"condition":{"test":"datum.value % 4 != 0","value":2.5},"value":4.5},"labelFontSize":12.5,"titleFontSize":18,"titlePadding":3}},
"y":{"field":"y","type":"quantitative","scale":{"domain":[-5,35],"nice":false,"zero":false},"axis":{"title":"ΔR/R (%)","values":[-5,0,5,10,15,20,25,30,35],"labelExpr":"datum.value % 10 == 0 ? datum.label : ''","tickSize":{"condition":{"test":"datum.value % 10 != 0","value":2.5},"value":4.5},"labelFontSize":12.5,"titleFontSize":18}}},
"layer":[
{"data":{"name":"a_g"},"mark":{"type":"rect","color":"#e3e3e3"},"encoding":{"x2":{"field":"x2"},"y2":{"field":"y2"}}},
{"data":{"name":"a"},"mark":{"type":"errorband","color":"#8d91cf","opacity":0.65},"encoding":{"yError":{"field":"e"}}},
{"data":{"name":"a"},"mark":{"type":"line","color":"#2b3192","strokeWidth":1.8},"encoding":{}},
{"data":{"name":"a_s"},"mark":{"type":"rule","strokeWidth":1.3},"encoding":{"x2":{"field":"x2"},"y2":{"field":"y2"}}},
{"data":{"name":"a_l"},"mark":{"type":"rule","color":"#2b3192","strokeWidth":2},"encoding":{"x2":{"field":"x2"}}},
{"data":{"name":"a_t"},"transform":[{"filter":"datum.k=='L'"}],"mark":{"type":"text","fontSize":25,"fontWeight":"bold","align":"left","baseline":"alphabetic"},"encoding":{"text":{"field":"t"}}},
{"data":{"name":"a_t"},"transform":[{"filter":"datum.k=='N'"}],"mark":{"type":"text","fontSize":21,"align":"center","baseline":"alphabetic"},"encoding":{"text":{"field":"t"}}},
{"data":{"name":"a_t"},"transform":[{"filter":"datum.k=='I'"}],"mark":{"type":"text","fontSize":13,"fontStyle":"italic","align":"left","baseline":"middle"},"encoding":{"text":{"field":"t"}}},
{"data":{"name":"a_t"},"transform":[{"filter":"datum.k=='R'"}],"mark":{"type":"text","fontSize":13,"align":"left","baseline":"middle"},"encoding":{"text":{"field":"t"}}},
{"data":{"name":"a_t"},"transform":[{"filter":"datum.k=='P'"}],"mark":{"type":"text","fontSize":11,"align":"center","baseline":"middle","color":"#222222"},"encoding":{"text":{"field":"t"}}},
{"data":{"name":"a_t"},"transform":[{"filter":"datum.k=='S'"}],"mark":{"type":"text","fontSize":15,"align":"center","baseline":"middle"},"encoding":{"text":{"field":"t"}}}
]},
{"width":284,"height":160,
"encoding":{"x":{"field":"x","type":"quantitative","scale":{"domain":[0,28],"nice":false,"zero":false},"axis":{"title":"Time (min)","values":[0,2,4,6,8,10,12,14,16,18,20,22,24,26,28],"labelExpr":"datum.value % 4 == 0 ? datum.label : ''","tickSize":{"condition":{"test":"datum.value % 4 != 0","value":2.5},"value":4.5},"labelFontSize":12.5,"titleFontSize":18,"titlePadding":3}},
"y":{"field":"y","type":"quantitative","scale":{"domain":[-6,6],"nice":false,"zero":false},"axis":{"title":"ΔR/R (%)","values":[-6,-5,-4,-3,-2,-1,0,1,2,3,4,5,6],"labelExpr":"datum.value == 6 ? '5' : datum.value == -6 ? '0' : (datum.value % 2 == 0 ? datum.label : '')","tickSize":{"condition":{"test":"datum.value % 2 != 0","value":2.5},"value":4.5},"labelFontSize":12.5,"titleFontSize":18}}},
"layer":[
{"data":{"name":"b_g"},"mark":{"type":"rect","color":"#e3e3e3"},"encoding":{"x2":{"field":"x2"},"y2":{"field":"y2"}}},
{"data":{"name":"b"},"mark":{"type":"errorband","color":"#8d91cf","opacity":0.65},"encoding":{"yError":{"field":"e"}}},
{"data":{"name":"b"},"mark":{"type":"line","color":"#2b3192","strokeWidth":1.8},"encoding":{}},
{"data":{"name":"b_s"},"mark":{"type":"rule","strokeWidth":1.3},"encoding":{"x2":{"field":"x2"},"y2":{"field":"y2"}}},
{"data":{"name":"b_l"},"mark":{"type":"rule","color":"#2b3192","strokeWidth":2},"encoding":{"x2":{"field":"x2"}}},
{"data":{"name":"b_t"},"transform":[{"filter":"datum.k=='L'"}],"mark":{"type":"text","fontSize":25,"fontWeight":"bold","align":"left","baseline":"alphabetic"},"encoding":{"text":{"field":"t"}}},
{"data":{"name":"b_t"},"transform":[{"filter":"datum.k=='N'"}],"mark":{"type":"text","fontSize":21,"align":"center","baseline":"alphabetic"},"encoding":{"text":{"field":"t"}}},
{"data":{"name":"b_t"},"transform":[{"filter":"datum.k=='I'"}],"mark":{"type":"text","fontSize":13,"fontStyle":"italic","align":"left","baseline":"middle"},"encoding":{"text":{"field":"t"}}},
{"data":{"name":"b_t"},"transform":[{"filter":"datum.k=='R'"}],"mark":{"type":"text","fontSize":13,"align":"left","baseline":"middle"},"encoding":{"text":{"field":"t"}}},
{"data":{"name":"b_t"},"transform":[{"filter":"datum.k=='P'"}],"mark":{"type":"text","fontSize":11,"align":"center","baseline":"middle","color":"#222222"},"encoding":{"text":{"field":"t"}}},
{"data":{"name":"b_t"},"transform":[{"filter":"datum.k=='S'"}],"mark":{"type":"text","fontSize":15,"align":"center","baseline":"middle"},"encoding":{"text":{"field":"t"}}}
]}
],"spacing":46,"resolve":{"scale":{"color":"independent"}}},
{"hconcat":[
{"width":279,"height":157,"resolve":{"scale":{"color":"independent"}},
"encoding":{"x":{"field":"x","type":"quantitative","scale":{"domain":[-1.5,241.5],"nice":false,"zero":false},"axis":{"title":"Time (s)","values":[0,60,120,180,240],"labelFontSize":14,"titleFontSize":18,"titlePadding":3}},
"y":{"field":"y","type":"quantitative","scale":{"domain":[-10,40],"nice":false,"zero":false},"axis":{"title":"ΔR/R (%)","values":[-10,-5,0,5,10,15,20,25,30,35,40],"labelExpr":"datum.value % 10 == 0 ? datum.label : ''","tickSize":{"condition":{"test":"datum.value % 10 != 0","value":2.5},"value":4.5},"labelFontSize":14,"titleFontSize":17}}},
"layer":[
{"data":{"name":"c_g"},"mark":{"type":"rect","color":"#e3e3e3"},"encoding":{"x2":{"field":"x2"},"y2":{"field":"y2"}}},
{"data":{"name":"c_s"},"transform":[{"filter":"datum.k=='z'"}],"mark":{"type":"rule","color":"#888888","strokeWidth":0.8},"encoding":{"x2":{"field":"x2"}}},
{"data":{"name":"c"},"mark":{"type":"errorband","opacity":0.6},"encoding":{"yError":{"field":"e"},"color":{"field":"s","type":"nominal","scale":{"domain":["n","g"],"range":["#8e92d0","#f5a27e"]},"legend":null}}},
{"data":{"name":"c"},"mark":{"type":"line","strokeWidth":1.5},"encoding":{"color":{"field":"s","type":"nominal","scale":{"domain":["n","g"],"range":["#23308c","#e8262d"]},"legend":null}}},
{"data":{"name":"c_s"},"transform":[{"filter":"datum.k=='b'"}],"mark":{"type":"rule","strokeWidth":1.5},"encoding":{"x2":{"field":"x2"},"y2":{"field":"y2"}}},
{"data":{"name":"c_l"},"mark":{"type":"rule","strokeWidth":2},"encoding":{"x2":{"field":"x2"},"color":{"field":"s","type":"nominal","scale":{"domain":["n","g"],"range":["#23308c","#e8262d"]},"legend":null}}},
{"data":{"name":"c_t"},"transform":[{"filter":"datum.k=='L'"}],"mark":{"type":"text","fontSize":25,"fontWeight":"bold","align":"left","baseline":"alphabetic"},"encoding":{"text":{"field":"t"}}},
{"data":{"name":"c_t"},"transform":[{"filter":"datum.k=='N'"}],"mark":{"type":"text","fontSize":21,"align":"center","baseline":"alphabetic"},"encoding":{"text":{"field":"t"}}},
{"data":{"name":"c_t"},"transform":[{"filter":"datum.k=='I'"}],"mark":{"type":"text","fontSize":13,"fontStyle":"italic","align":"left","baseline":"middle"},"encoding":{"text":{"field":"t"}}},
{"data":{"name":"c_t"},"transform":[{"filter":"datum.k=='R'"}],"mark":{"type":"text","fontSize":13,"align":"left","baseline":"middle"},"encoding":{"text":{"field":"t"}}},
{"data":{"name":"c_t"},"transform":[{"filter":"datum.k=='P'"}],"mark":{"type":"text","fontSize":11,"align":"center","baseline":"middle","color":"#222222"},"encoding":{"text":{"field":"t"}}},
{"data":{"name":"c_t"},"transform":[{"filter":"datum.k=='S'"}],"mark":{"type":"text","fontSize":15,"align":"center","baseline":"middle"},"encoding":{"text":{"field":"t"}}}
]},
{"width":284,"height":157,"resolve":{"scale":{"color":"independent"}},
"encoding":{"x":{"field":"x","type":"quantitative","scale":{"domain":[0,240],"nice":false,"zero":false},"axis":{"title":"Time (s)","values":[0,60,120,180,240],"labelFontSize":14,"titleFontSize":18,"titlePadding":3}},
"y":{"field":"y","type":"quantitative","scale":{"domain":[-2,5],"nice":false,"zero":false},"axis":{"title":"ΔR/R (%)","values":[-2,-1,0,1,2,3,4,5],"labelFontSize":14,"titleFontSize":17}}},
"layer":[
{"data":{"name":"d_g"},"mark":{"type":"rect","color":"#e3e3e3"},"encoding":{"x2":{"field":"x2"},"y2":{"field":"y2"}}},
{"data":{"name":"d_s"},"transform":[{"filter":"datum.k=='z'"}],"mark":{"type":"rule","color":"#888888","strokeWidth":0.8},"encoding":{"x2":{"field":"x2"}}},
{"data":{"name":"d"},"mark":{"type":"errorband","opacity":0.6},"encoding":{"yError":{"field":"e"},"color":{"field":"s","type":"nominal","scale":{"domain":["n","g"],"range":["#9ea4de","#f6ac90"]},"legend":null}}},
{"data":{"name":"d"},"mark":{"type":"line","strokeWidth":1.5},"encoding":{"color":{"field":"s","type":"nominal","scale":{"domain":["n","g"],"range":["#2f41ae","#e8262d"]},"legend":null}}},
{"data":{"name":"d_s"},"transform":[{"filter":"datum.k=='b'"}],"mark":{"type":"rule","strokeWidth":1.5},"encoding":{"x2":{"field":"x2"},"y2":{"field":"y2"}}},
{"data":{"name":"d_l"},"mark":{"type":"rule","strokeWidth":2},"encoding":{"x2":{"field":"x2"},"color":{"field":"s","type":"nominal","scale":{"domain":["n","g"],"range":["#2f41ae","#e8262d"]},"legend":null}}},
{"data":{"name":"d_t"},"transform":[{"filter":"datum.k=='L'"}],"mark":{"type":"text","fontSize":25,"fontWeight":"bold","align":"left","baseline":"alphabetic"},"encoding":{"text":{"field":"t"}}},
{"data":{"name":"d_t"},"transform":[{"filter":"datum.k=='N'"}],"mark":{"type":"text","fontSize":21,"align":"center","baseline":"alphabetic"},"encoding":{"text":{"field":"t"}}},
{"data":{"name":"d_t"},"transform":[{"filter":"datum.k=='I'"}],"mark":{"type":"text","fontSize":13,"fontStyle":"italic","align":"left","baseline":"middle"},"encoding":{"text":{"field":"t"}}},
{"data":{"name":"d_t"},"transform":[{"filter":"datum.k=='R'"}],"mark":{"type":"text","fontSize":13,"align":"left","baseline":"middle"},"encoding":{"text":{"field":"t"}}},
{"data":{"name":"d_t"},"transform":[{"filter":"datum.k=='P'"}],"mark":{"type":"text","fontSize":11,"align":"center","baseline":"middle","color":"#222222"},"encoding":{"text":{"field":"t"}}},
{"data":{"name":"d_t"},"transform":[{"filter":"datum.k=='S'"}],"mark":{"type":"text","fontSize":15,"align":"center","baseline":"middle"},"encoding":{"text":{"field":"t"}}}
]}
],"spacing":40,"resolve":{"scale":{"color":"independent"}}},
{"hconcat":[
{"width":279,"height":161,"resolve":{"scale":{"color":"independent"}},
"encoding":{"x":{"field":"x","type":"quantitative","scale":{"domain":[-1,240.5],"nice":false,"zero":false},"axis":{"title":"Time (s)","values":[0,60,120,180,240],"labelFontSize":14,"titleFontSize":18,"titlePadding":3}},
"y":{"field":"y","type":"quantitative","scale":{"domain":[-5,41],"nice":false,"zero":false},"axis":{"title":"ΔR/R (%)","domain":false,"values":[-5,0,5,10,15,20,25,30,35],"labelExpr":"datum.value % 10 == 0 ? datum.label : ''","tickSize":{"condition":{"test":"datum.value % 10 != 0","value":2.5},"value":4.5},"labelFontSize":14,"titleFontSize":16}}},
"layer":[
{"data":{"name":"e_g"},"mark":{"type":"rect","color":"#e3e3e3"},"encoding":{"x2":{"field":"x2"},"y2":{"field":"y2"}}},
{"data":{"name":"e_s"},"transform":[{"filter":"datum.k=='z'"}],"mark":{"type":"rule","color":"#888888","strokeWidth":0.8},"encoding":{"x2":{"field":"x2"}}},
{"data":{"name":"e"},"mark":{"type":"errorband","opacity":0.5},"encoding":{"yError":{"field":"e"},"color":{"field":"s","type":"nominal","scale":{"domain":["r","n","o","g"],"range":["#f29a94","#9a98cf","#fbc08a","#a8c8ec"]},"legend":null}}},
{"data":{"name":"e"},"mark":{"type":"line","strokeWidth":1.8},"encoding":{"color":{"field":"s","type":"nominal","scale":{"domain":["r","n","o","g"],"range":["#e8262d","#2b3192","#f7941d","#5da3e3"]},"legend":null}}},
{"data":{"name":"e_s"},"transform":[{"filter":"datum.k=='b'"}],"mark":{"type":"rule","strokeWidth":1.3},"encoding":{"x2":{"field":"x2"},"y2":{"field":"y2"}}},
{"data":{"name":"e_l"},"mark":{"type":"rule","strokeWidth":2},"encoding":{"x2":{"field":"x2"},"color":{"field":"s","type":"nominal","scale":{"domain":["r","n","o","g"],"range":["#e8262d","#2b3192","#f7941d","#5da3e3"]},"legend":null}}},
{"data":{"name":"e_t"},"transform":[{"filter":"datum.k=='L'"}],"mark":{"type":"text","fontSize":25,"fontWeight":"bold","align":"left","baseline":"alphabetic"},"encoding":{"text":{"field":"t"}}},
{"data":{"name":"e_t"},"transform":[{"filter":"datum.k=='N'"}],"mark":{"type":"text","fontSize":21,"align":"center","baseline":"alphabetic"},"encoding":{"text":{"field":"t"}}},
{"data":{"name":"e_t"},"transform":[{"filter":"datum.k=='I'"}],"mark":{"type":"text","fontSize":13,"fontStyle":"italic","align":"left","baseline":"middle"},"encoding":{"text":{"field":"t"}}},
{"data":{"name":"e_t"},"transform":[{"filter":"datum.k=='R'"}],"mark":{"type":"text","fontSize":13,"align":"left","baseline":"middle"},"encoding":{"text":{"field":"t"}}},
{"data":{"name":"e_t"},"transform":[{"filter":"datum.k=='Q'"}],"mark":{"type":"text","fontSize":13,"align":"right","baseline":"middle"},"encoding":{"text":{"field":"t"}}},
{"data":{"name":"e_t"},"transform":[{"filter":"datum.k=='P'"}],"mark":{"type":"text","fontSize":11,"align":"center","baseline":"middle","color":"#222222"},"encoding":{"text":{"field":"t"}}}
]},
{"width":286,"height":161,"resolve":{"scale":{"color":"independent"}},
"encoding":{"x":{"field":"x","type":"quantitative","scale":{"domain":[0,240],"nice":false,"zero":false},"axis":{"title":"Time (s)","values":[0,60,120,180,240],"labelFontSize":14,"titleFontSize":18,"titlePadding":3}},
"y":{"field":"y","type":"quantitative","scale":{"domain":[-4,8],"nice":false,"zero":false},"axis":{"title":"ΔR/R (%)","values":[-4,-2,0,2,4,6,8],"labelFontSize":14,"titleFontSize":17}}},
"layer":[
{"data":{"name":"f_g"},"mark":{"type":"rect","color":"#e3e3e3"},"encoding":{"x2":{"field":"x2"},"y2":{"field":"y2"}}},
{"data":{"name":"f_s"},"transform":[{"filter":"datum.k=='z'"}],"mark":{"type":"rule","color":"#888888","strokeWidth":0.8},"encoding":{"x2":{"field":"x2"}}},
{"data":{"name":"f"},"mark":{"type":"errorband","opacity":0.55},"encoding":{"yError":{"field":"e"},"color":{"field":"s","type":"nominal","scale":{"domain":["n","o"],"range":["#a4a8e0","#fbc28c"]},"legend":null}}},
{"data":{"name":"f"},"mark":{"type":"line","strokeWidth":1.5},"encoding":{"color":{"field":"s","type":"nominal","scale":{"domain":["n","o"],"range":["#3042aa","#f7941d"]},"legend":null}}},
{"data":{"name":"f_s"},"transform":[{"filter":"datum.k=='b'"}],"mark":{"type":"rule","strokeWidth":1.5},"encoding":{"x2":{"field":"x2"},"y2":{"field":"y2"}}},
{"data":{"name":"f_l"},"mark":{"type":"rule","strokeWidth":2},"encoding":{"x2":{"field":"x2"},"color":{"field":"s","type":"nominal","scale":{"domain":["n","o"],"range":["#3042aa","#f7941d"]},"legend":null}}},
{"data":{"name":"f_t"},"transform":[{"filter":"datum.k=='L'"}],"mark":{"type":"text","fontSize":25,"fontWeight":"bold","align":"left","baseline":"alphabetic"},"encoding":{"text":{"field":"t"}}},
{"data":{"name":"f_t"},"transform":[{"filter":"datum.k=='N'"}],"mark":{"type":"text","fontSize":21,"align":"center","baseline":"alphabetic"},"encoding":{"text":{"field":"t"}}},
{"data":{"name":"f_t"},"transform":[{"filter":"datum.k=='I'"}],"mark":{"type":"text","fontSize":13,"fontStyle":"italic","align":"left","baseline":"middle"},"encoding":{"text":{"field":"t"}}},
{"data":{"name":"f_t"},"transform":[{"filter":"datum.k=='R'"}],"mark":{"type":"text","fontSize":13,"align":"left","baseline":"middle"},"encoding":{"text":{"field":"t"}}},
{"data":{"name":"f_t"},"transform":[{"filter":"datum.k=='P'"}],"mark":{"type":"text","fontSize":11,"align":"center","baseline":"middle","color":"#222222"},"encoding":{"text":{"field":"t"}}},
{"data":{"name":"f_t"},"transform":[{"filter":"datum.k=='T'"}],"mark":{"type":"text","fontSize":12.5,"align":"center","baseline":"middle"},"encoding":{"text":{"field":"t"}}}
]}
],"spacing":42,"resolve":{"scale":{"color":"independent"}}},
{"hconcat":[
{"width":287,"height":172,"resolve":{"scale":{"color":"independent"}},
"encoding":{"x":{"field":"x","type":"quantitative","scale":{"domain":[0,241],"nice":false,"zero":false},"axis":{"title":"Time (s)","values":[0,60,120,180],"labelFontSize":15,"titleFontSize":18,"titlePadding":3}},
"y":{"field":"y","type":"quantitative","scale":{"domain":[-2,6.34],"nice":false,"zero":false},"axis":{"title":"ΔR/R (%)","domain":false,"values":[-2,-1,0,1,2,3,4,5,6],"labelFontSize":14,"titleFontSize":17}}},
"layer":[
{"data":{"name":"g_g"},"mark":{"type":"rect","color":"#e3e3e3"},"encoding":{"x2":{"field":"x2"},"y2":{"field":"y2"}}},
{"data":{"name":"g_s"},"transform":[{"filter":"datum.k=='z'"}],"mark":{"type":"rule","color":"#888888","strokeWidth":0.8},"encoding":{"x2":{"field":"x2"}}},
{"data":{"name":"g"},"mark":{"type":"errorband","opacity":0.6},"encoding":{"yError":{"field":"e"},"color":{"field":"s","type":"nominal","scale":{"domain":["n","r"],"range":["#a4a8e0","#f6ac90"]},"legend":null}}},
{"data":{"name":"g"},"mark":{"type":"line","strokeWidth":1.5},"encoding":{"color":{"field":"s","type":"nominal","scale":{"domain":["n","r"],"range":["#3042aa","#e8262d"]},"legend":null}}},
{"data":{"name":"g_s"},"transform":[{"filter":"datum.k=='b'"}],"mark":{"type":"rule","strokeWidth":1.3},"encoding":{"x2":{"field":"x2"},"y2":{"field":"y2"}}},
{"data":{"name":"g_l"},"mark":{"type":"rule","strokeWidth":2},"encoding":{"x2":{"field":"x2"},"color":{"field":"s","type":"nominal","scale":{"domain":["n","r"],"range":["#3042aa","#e8262d"]},"legend":null}}},
{"data":{"name":"g_t"},"transform":[{"filter":"datum.k=='L'"}],"mark":{"type":"text","fontSize":25,"fontWeight":"bold","align":"left","baseline":"alphabetic"},"encoding":{"text":{"field":"t"}}},
{"data":{"name":"g_t"},"transform":[{"filter":"datum.k=='N'"}],"mark":{"type":"text","fontSize":21,"align":"center","baseline":"alphabetic"},"encoding":{"text":{"field":"t"}}},
{"data":{"name":"g_t"},"transform":[{"filter":"datum.k=='I'"}],"mark":{"type":"text","fontSize":13,"fontStyle":"italic","align":"left","baseline":"middle"},"encoding":{"text":{"field":"t"}}},
{"data":{"name":"g_t"},"transform":[{"filter":"datum.k=='R'"}],"mark":{"type":"text","fontSize":13,"align":"left","baseline":"middle"},"encoding":{"text":{"field":"t"}}},
{"data":{"name":"g_t"},"transform":[{"filter":"datum.k=='P'"}],"mark":{"type":"text","fontSize":11,"align":"center","baseline":"middle","color":"#222222"},"encoding":{"text":{"field":"t"}}},
{"data":{"name":"g_t"},"transform":[{"filter":"datum.k=='S'"}],"mark":{"type":"text","fontSize":15,"align":"center","baseline":"middle"},"encoding":{"text":{"field":"t"}}}
]},
{"width":251,"height":172,"resolve":{"scale":{"color":"independent"}},
"encoding":{"x":{"field":"x","type":"quantitative","scale":{"domain":[0,27],"nice":false,"zero":false},"axis":{"title":"Time (min)","values":[0,2,4,6,8,10,12,14,16,18,20,22,24,26],"labelExpr":"datum.value % 4 == 0 ? datum.label : ''","tickSize":{"condition":{"test":"datum.value % 4 != 0","value":2.5},"value":4.5},"labelFontSize":14,"titleFontSize":18,"titlePadding":3}},
"y":{"field":"y","type":"quantitative","scale":{"domain":[0,200],"nice":false,"zero":false},"axis":{"title":"Speed (μm s⁻¹)","values":[0,50,100,150,200],"labelFontSize":14,"titleFontSize":17}}},
"layer":[
{"data":{"name":"h_g"},"mark":{"type":"rect","color":"#e3e3e3"},"encoding":{"x2":{"field":"x2"},"y2":{"field":"y2"}}},
{"data":{"name":"h"},"mark":{"type":"errorband","opacity":0.55},"encoding":{"yError":{"field":"e"},"color":{"field":"s","type":"nominal","scale":{"domain":["n","r"],"range":["#9a9a9a","#f5a0a0"]},"legend":null}}},
{"data":{"name":"h"},"mark":{"type":"line","strokeWidth":1.1},"encoding":{"color":{"field":"s","type":"nominal","scale":{"domain":["n","r"],"range":["#2b3192","#f03a3a"]},"legend":null}}},
{"data":{"name":"h_l"},"mark":{"type":"rule","strokeWidth":2},"encoding":{"x2":{"field":"x2"},"color":{"field":"s","type":"nominal","scale":{"domain":["n","r"],"range":["#2b3192","#f03a3a"]},"legend":null}}},
{"data":{"name":"h_t"},"transform":[{"filter":"datum.k=='L'"}],"mark":{"type":"text","fontSize":25,"fontWeight":"bold","align":"left","baseline":"alphabetic"},"encoding":{"text":{"field":"t"}}},
{"data":{"name":"h_t"},"transform":[{"filter":"datum.k=='I'"}],"mark":{"type":"text","fontSize":13,"fontStyle":"italic","align":"left","baseline":"middle"},"encoding":{"text":{"field":"t"}}},
{"data":{"name":"h_t"},"transform":[{"filter":"datum.k=='R'"}],"mark":{"type":"text","fontSize":13,"align":"left","baseline":"middle"},"encoding":{"text":{"field":"t"}}},
{"data":{"name":"h_t"},"transform":[{"filter":"datum.k=='P'"}],"mark":{"type":"text","fontSize":11,"align":"center","baseline":"middle","color":"#222222"},"encoding":{"text":{"field":"t"}}}
]}
],"spacing":40,"resolve":{"scale":{"color":"independent"}}}
],"spacing":19,"resolve":{"scale":{"color":"independent"}}},
{"hconcat":[
{"width":252,"height":173,
"encoding":{"x":{"field":"x","type":"quantitative","scale":{"domain":[0,900],"nice":false,"zero":false},"axis":{"title":"Time (s)","values":[0,60,120,180,240,300,360,420,480,540,600,660,720,780,840,900],"labelExpr":"datum.value % 120 == 0 ? datum.label : ''","tickSize":{"condition":{"test":"datum.value % 120 != 0","value":2.5},"value":4.5},"labelFontSize":14,"titleFontSize":18,"titlePadding":3}}},
"layer":[
{"data":{"name":"o2"},"mark":{"type":"line","color":"#c0c0c0","strokeWidth":1.2},"encoding":{"y":{"field":"y","type":"quantitative","scale":{"domain":[-7.8,21],"nice":false,"zero":false},"axis":{"orient":"right","title":"O2 conc. (%)","values":[5,7,9,11,13,15,17,19,21],"labelExpr":"(datum.value - 5) % 4 == 0 ? datum.label : ''","tickSize":{"condition":{"test":"(datum.value - 5) % 4 != 0","value":2.5},"value":4.5},"labelColor":"#bdbdbd","tickColor":"#bdbdbd","domainColor":"#c8c8c8","domainWidth":2,"titleColor":"#c4c4c4","titleFontSize":19,"titleFontWeight":"bold","titleAngle":270,"titleBaseline":"top","labelFontSize":14,"titlePadding":8}}}},
{"encoding":{"y":{"field":"y","type":"quantitative","scale":{"domain":[0,200],"nice":false,"zero":false},"axis":{"title":"Speed (μm s⁻¹)","values":[0,50,100,150,200],"labelFontSize":14,"titleFontSize":18,"titlePadding":3}}},
"resolve":{"scale":{"color":"independent"}},
"layer":[
{"data":{"name":"i"},"mark":{"type":"errorband","opacity":0.6},"encoding":{"yError":{"field":"e"},"color":{"field":"s","type":"nominal","scale":{"domain":["n","r"],"range":["#5ccbe6","#f79a9a"]},"legend":null}}},
{"data":{"name":"i"},"mark":{"type":"line","strokeWidth":1.2},"encoding":{"color":{"field":"s","type":"nominal","scale":{"domain":["n","r"],"range":["#2a46a6","#ef3434"]},"legend":null}}},
{"data":{"name":"i_s"},"mark":{"type":"rule","color":"#e8262d","strokeWidth":2},"encoding":{"x2":{"field":"x2"}}},
{"data":{"name":"i_l"},"mark":{"type":"rule","strokeWidth":2},"encoding":{"x2":{"field":"x2"},"color":{"field":"s","type":"nominal","scale":{"domain":["n","r"],"range":["#2a46a6","#ef3434"]},"legend":null}}},
{"data":{"name":"i_t"},"transform":[{"filter":"datum.k=='L'"}],"mark":{"type":"text","fontSize":25,"fontWeight":"bold","align":"left","baseline":"alphabetic"},"encoding":{"text":{"field":"t"}}},
{"data":{"name":"i_t"},"transform":[{"filter":"datum.k=='I'"}],"mark":{"type":"text","fontSize":13,"fontStyle":"italic","align":"left","baseline":"middle"},"encoding":{"text":{"field":"t"}}},
{"data":{"name":"i_t"},"transform":[{"filter":"datum.k=='R'"}],"mark":{"type":"text","fontSize":13,"align":"left","baseline":"middle"},"encoding":{"text":{"field":"t"}}},
{"data":{"name":"i_t"},"transform":[{"filter":"datum.k=='S'"}],"mark":{"type":"text","fontSize":14,"align":"center","baseline":"middle","color":"#e8262d"},"encoding":{"text":{"field":"t"}}}
]}
],
"resolve":{"scale":{"y":"independent"}}},
{"width":253,"height":173,
"encoding":{"x":{"field":"x","type":"quantitative","scale":{"domain":[0,900],"nice":false,"zero":false},"axis":{"title":"Time (s)","values":[0,60,120,180,240,300,360,420,480,540,600,660,720,780,840,900],"labelExpr":"datum.value % 120 == 0 ? datum.label : ''","tickSize":{"condition":{"test":"datum.value % 120 != 0","value":2.5},"value":4.5},"labelFontSize":14,"titleFontSize":18,"titlePadding":3}}},
"layer":[
{"data":{"name":"o2"},"mark":{"type":"line","color":"#c0c0c0","strokeWidth":1.2},"encoding":{"y":{"field":"y","type":"quantitative","scale":{"domain":[-7.8,21],"nice":false,"zero":false},"axis":{"orient":"right","title":"O2 conc. (%)","values":[5,7,9,11,13,15,17,19,21],"labelExpr":"(datum.value - 5) % 4 == 0 ? datum.label : ''","tickSize":{"condition":{"test":"(datum.value - 5) % 4 != 0","value":2.5},"value":4.5},"labelColor":"#bdbdbd","tickColor":"#bdbdbd","domainColor":"#c8c8c8","domainWidth":2,"titleColor":"#c4c4c4","titleFontSize":19,"titleFontWeight":"bold","titleAngle":270,"titleBaseline":"top","labelFontSize":14,"titlePadding":8}}}},
{"encoding":{"y":{"field":"y","type":"quantitative","scale":{"domain":[0,200],"nice":false,"zero":false},"axis":{"title":"Speed (μm s⁻¹)","values":[0,50,100,150,200],"labelFontSize":14,"titleFontSize":18,"titlePadding":3}}},
"resolve":{"scale":{"color":"independent"}},
"layer":[
{"data":{"name":"j"},"mark":{"type":"errorband","opacity":0.6},"encoding":{"yError":{"field":"e"},"color":{"field":"s","type":"nominal","scale":{"domain":["n","r"],"range":["#5ccbe6","#f79a9a"]},"legend":null}}},
{"data":{"name":"j"},"mark":{"type":"line","strokeWidth":1.2},"encoding":{"color":{"field":"s","type":"nominal","scale":{"domain":["n","r"],"range":["#2a46a6","#ef3434"]},"legend":null}}},
{"data":{"name":"j_s"},"mark":{"type":"rule","color":"#e8262d","strokeWidth":2},"encoding":{"x2":{"field":"x2"}}},
{"data":{"name":"j_l"},"mark":{"type":"rule","strokeWidth":2},"encoding":{"x2":{"field":"x2"},"color":{"field":"s","type":"nominal","scale":{"domain":["n","r"],"range":["#2a46a6","#ef3434"]},"legend":null}}},
{"data":{"name":"j_t"},"transform":[{"filter":"datum.k=='L'"}],"mark":{"type":"text","fontSize":25,"fontWeight":"bold","align":"left","baseline":"alphabetic"},"encoding":{"text":{"field":"t"}}},
{"data":{"name":"j_t"},"transform":[{"filter":"datum.k=='I'"}],"mark":{"type":"text","fontSize":13,"fontStyle":"italic","align":"left","baseline":"middle"},"encoding":{"text":{"field":"t"}}},
{"data":{"name":"j_t"},"transform":[{"filter":"datum.k=='R'"}],"mark":{"type":"text","fontSize":13,"align":"left","baseline":"middle"},"encoding":{"text":{"field":"t"}}},
{"data":{"name":"j_t"},"transform":[{"filter":"datum.k=='S'"}],"mark":{"type":"text","fontSize":14,"align":"center","baseline":"middle","color":"#e8262d"},"encoding":{"text":{"field":"t"}}},
{"data":{"name":"j_t"},"transform":[{"filter":"datum.k=='T'"}],"mark":{"type":"text","fontSize":14,"align":"center","baseline":"middle","color":"#e8262d"},"encoding":{"text":{"field":"t"}}}
]}
],
"resolve":{"scale":{"y":"independent"}}}
],"spacing":28,"resolve":{"scale":{"color":"independent"}}}
],
"spacing":10,
"resolve":{"scale":{"color":"independent"}}
}
